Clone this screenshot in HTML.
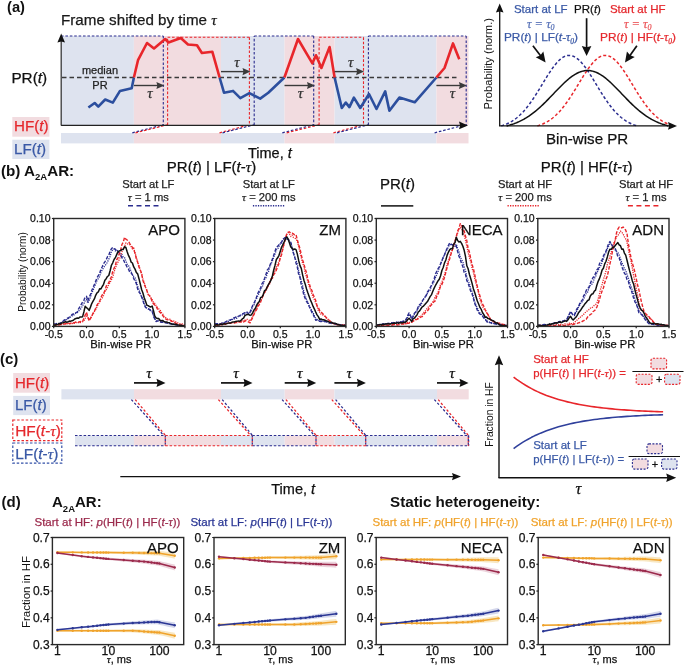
<!DOCTYPE html><html><head><meta charset="utf-8"><style>html,body{margin:0;padding:0;background:#fff;width:685px;height:665px;overflow:hidden}svg{display:block;will-change:transform}</style></head><body><svg width="685" height="665" viewBox="0 0 685 665"><text x="7" y="11.7" font-family='"Liberation Sans", sans-serif' font-size="14.7" fill="#111" stroke="#111" stroke-width="0" text-anchor="start" font-weight="bold" >(a)</text>
<text x="61" y="25.3" font-family='"Liberation Sans", sans-serif' font-size="15.2" fill="#1a1a1a" stroke="#1a1a1a" stroke-width="0.25" text-anchor="start" font-weight="normal" >Frame shifted by time <tspan font-family='"Liberation Serif", serif' font-style="italic">τ</tspan></text>
<rect x="61" y="36" width="72.9" height="89" fill="#dee3ef" stroke="none" stroke-width="1" />
<rect x="61" y="133" width="72.9" height="10.4" fill="#dee3ef" stroke="none" stroke-width="1" />
<rect x="133.9" y="36" width="87.1" height="89" fill="#f2dce0" stroke="none" stroke-width="1" />
<rect x="133.9" y="133" width="87.1" height="10.4" fill="#f2dce0" stroke="none" stroke-width="1" />
<rect x="221" y="36" width="63.5" height="89" fill="#dee3ef" stroke="none" stroke-width="1" />
<rect x="221" y="133" width="63.5" height="10.4" fill="#dee3ef" stroke="none" stroke-width="1" />
<rect x="284.5" y="36" width="50.10000000000002" height="89" fill="#f2dce0" stroke="none" stroke-width="1" />
<rect x="284.5" y="133" width="50.10000000000002" height="10.4" fill="#f2dce0" stroke="none" stroke-width="1" />
<rect x="334.6" y="36" width="101.79999999999995" height="89" fill="#dee3ef" stroke="none" stroke-width="1" />
<rect x="334.6" y="133" width="101.79999999999995" height="10.4" fill="#dee3ef" stroke="none" stroke-width="1" />
<rect x="436.4" y="36" width="32.10000000000002" height="89" fill="#f2dce0" stroke="none" stroke-width="1" />
<rect x="436.4" y="133" width="32.10000000000002" height="10.4" fill="#f2dce0" stroke="none" stroke-width="1" />
<line x1="61" y1="36" x2="163.3" y2="36" stroke="#2b2d8f" stroke-width="1.1" stroke-dasharray="2.6,1.8" />
<line x1="163.3" y1="36" x2="163.3" y2="125" stroke="#2b2d8f" stroke-width="1.1" stroke-dasharray="2.6,1.8" />
<line x1="254.2" y1="36" x2="313.7" y2="36" stroke="#2b2d8f" stroke-width="1.1" stroke-dasharray="2.6,1.8" />
<line x1="313.7" y1="36" x2="313.7" y2="125" stroke="#2b2d8f" stroke-width="1.1" stroke-dasharray="2.6,1.8" />
<line x1="254.2" y1="125" x2="254.2" y2="36" stroke="#2b2d8f" stroke-width="1.1" stroke-dasharray="2.6,1.8" />
<line x1="368.4" y1="36" x2="466.2" y2="36" stroke="#2b2d8f" stroke-width="1.1" stroke-dasharray="2.6,1.8" />
<line x1="466.2" y1="36" x2="466.2" y2="125" stroke="#2b2d8f" stroke-width="1.1" stroke-dasharray="2.6,1.8" />
<line x1="368.4" y1="125" x2="368.4" y2="36" stroke="#2b2d8f" stroke-width="1.1" stroke-dasharray="2.6,1.8" />
<line x1="167.6" y1="37.3" x2="249.4" y2="37.3" stroke="#e8262b" stroke-width="1.1" stroke-dasharray="2.6,1.8" />
<line x1="249.4" y1="37.3" x2="249.4" y2="125" stroke="#e8262b" stroke-width="1.1" stroke-dasharray="2.6,1.8" />
<line x1="167.6" y1="125" x2="167.6" y2="37.3" stroke="#e8262b" stroke-width="1.1" stroke-dasharray="2.6,1.8" />
<line x1="319.1" y1="37.3" x2="363.5" y2="37.3" stroke="#e8262b" stroke-width="1.1" stroke-dasharray="2.6,1.8" />
<line x1="363.5" y1="37.3" x2="363.5" y2="125" stroke="#e8262b" stroke-width="1.1" stroke-dasharray="2.6,1.8" />
<line x1="319.1" y1="125" x2="319.1" y2="37.3" stroke="#e8262b" stroke-width="1.1" stroke-dasharray="2.6,1.8" />
<line x1="132.3" y1="132.8" x2="163.3" y2="124.8" stroke="#2b2d8f" stroke-width="1.2" stroke-dasharray="2.6,1.8" />
<line x1="135.5" y1="132.8" x2="167.6" y2="124.8" stroke="#e8262b" stroke-width="1.2" stroke-dasharray="2.6,1.8" />
<line x1="219.5" y1="132.8" x2="249.4" y2="124.8" stroke="#e8262b" stroke-width="1.2" stroke-dasharray="2.6,1.8" />
<line x1="222.5" y1="132.8" x2="254.2" y2="124.8" stroke="#2b2d8f" stroke-width="1.2" stroke-dasharray="2.6,1.8" />
<line x1="282.3" y1="132.8" x2="313.7" y2="124.8" stroke="#2b2d8f" stroke-width="1.2" stroke-dasharray="2.6,1.8" />
<line x1="286.7" y1="132.8" x2="319.1" y2="124.8" stroke="#e8262b" stroke-width="1.2" stroke-dasharray="2.6,1.8" />
<line x1="333.4" y1="132.8" x2="363.5" y2="124.8" stroke="#e8262b" stroke-width="1.2" stroke-dasharray="2.6,1.8" />
<line x1="337" y1="132.8" x2="368.4" y2="124.8" stroke="#2b2d8f" stroke-width="1.2" stroke-dasharray="2.6,1.8" />
<line x1="434.6" y1="132.8" x2="465.5" y2="124.8" stroke="#2b2d8f" stroke-width="1.2" stroke-dasharray="2.6,1.8" />
<line x1="62" y1="77.5" x2="459" y2="77.5" stroke="#3a3a3a" stroke-width="1.6" stroke-dasharray="4.5,3" />
<text x="100" y="74" font-family='"Liberation Sans", sans-serif' font-size="11" fill="#222" stroke="#222" stroke-width="0.25" text-anchor="middle" font-weight="normal" >median</text>
<text x="100" y="89" font-family='"Liberation Sans", sans-serif' font-size="11" fill="#222" stroke="#222" stroke-width="0.25" text-anchor="middle" font-weight="normal" >PR</text>
<polyline points="88.40,107.50 94.70,103.00 98.30,106.60 105.20,99.50 112.80,102.60 120.00,90.90 131.70,88.20 133.90,77.50" fill="none" stroke="#2c4f9e" stroke-width="2.6" stroke-linejoin="round" />
<polyline points="219.60,77.50 224.00,92.70 233.00,90.90 240.30,98.10 249.40,93.20 260.20,98.60 268.30,92.70 284.40,77.50" fill="none" stroke="#2c4f9e" stroke-width="2.6" stroke-linejoin="round" />
<polyline points="334.60,77.50 341.80,108.00 345.80,102.60 349.40,107.10 353.90,97.60 360.30,108.00 369.00,94.00 376.50,109.00 385.20,91.40 389.40,110.70 399.40,97.60 414.70,102.30 436.40,77.50" fill="none" stroke="#2c4f9e" stroke-width="2.6" stroke-linejoin="round" />
<polyline points="133.90,77.50 138.00,60.20 147.00,43.00 154.00,48.50 165.20,39.00 168.50,42.50 180.80,38.00 188.00,44.50 197.00,45.20 201.90,53.00 212.30,51.70 219.60,77.50" fill="none" stroke="#e8262b" stroke-width="2.6" stroke-linejoin="round" />
<polyline points="284.40,77.50 298.00,39.00 312.40,63.30 316.00,55.30 321.40,68.00 329.60,47.00 334.60,77.50" fill="none" stroke="#e8262b" stroke-width="2.6" stroke-linejoin="round" />
<polyline points="436.40,77.50 444.50,68.00 453.00,43.40 459.30,59.30" fill="none" stroke="#e8262b" stroke-width="2.6" stroke-linejoin="round" />
<line x1="133.9" y1="85.5" x2="158.8" y2="85.5" stroke="#3a3a3a" stroke-width="1.4" />
<polygon points="164.4,85.5 156.40,89.10 157.36,85.50 156.40,81.90" fill="#3a3a3a"/>
<text x="149.9" y="97.5" font-family='"Liberation Serif", serif' font-size="15" fill="#333" stroke="#333" stroke-width="0.25" text-anchor="middle" font-weight="normal" ><tspan font-family='"Liberation Serif", serif' font-style="italic">τ</tspan></text>
<line x1="221.0" y1="71.6" x2="244.9" y2="71.6" stroke="#3a3a3a" stroke-width="1.4" />
<polygon points="250.5,71.6 242.50,75.20 243.46,71.60 242.50,68.00" fill="#3a3a3a"/>
<text x="237.0" y="66.5" font-family='"Liberation Serif", serif' font-size="15" fill="#333" stroke="#333" stroke-width="0.25" text-anchor="middle" font-weight="normal" ><tspan font-family='"Liberation Serif", serif' font-style="italic">τ</tspan></text>
<line x1="284.5" y1="85.5" x2="309.4" y2="85.5" stroke="#3a3a3a" stroke-width="1.4" />
<polygon points="315.0,85.5 307.00,89.10 307.96,85.50 307.00,81.90" fill="#3a3a3a"/>
<text x="300.5" y="97.5" font-family='"Liberation Serif", serif' font-size="15" fill="#333" stroke="#333" stroke-width="0.25" text-anchor="middle" font-weight="normal" ><tspan font-family='"Liberation Serif", serif' font-style="italic">τ</tspan></text>
<line x1="334.6" y1="71.6" x2="358.5" y2="71.6" stroke="#3a3a3a" stroke-width="1.4" />
<polygon points="364.1,71.6 356.10,75.20 357.06,71.60 356.10,68.00" fill="#3a3a3a"/>
<text x="350.6" y="66.5" font-family='"Liberation Serif", serif' font-size="15" fill="#333" stroke="#333" stroke-width="0.25" text-anchor="middle" font-weight="normal" ><tspan font-family='"Liberation Serif", serif' font-style="italic">τ</tspan></text>
<line x1="436.4" y1="85.5" x2="461.29999999999995" y2="85.5" stroke="#3a3a3a" stroke-width="1.4" />
<polygon points="466.9,85.5 458.90,89.10 459.86,85.50 458.90,81.90" fill="#3a3a3a"/>
<text x="452.4" y="97.5" font-family='"Liberation Serif", serif' font-size="15" fill="#333" stroke="#333" stroke-width="0.25" text-anchor="middle" font-weight="normal" ><tspan font-family='"Liberation Serif", serif' font-style="italic">τ</tspan></text>
<line x1="61" y1="125.4" x2="461" y2="125.4" stroke="#222" stroke-width="1.3" />
<polygon points="468,125.4 459.00,129.20 460.08,125.40 459.00,121.60" fill="#111"/>
<line x1="61.2" y1="125.4" x2="61.2" y2="40" stroke="#3a3a3a" stroke-width="1.3" />
<polygon points="61.2,33.5 65.00,42.50 61.20,41.42 57.40,42.50" fill="#111"/>
<text x="11.4" y="83.3" font-family='"Liberation Sans", sans-serif' font-size="15.3" fill="#111" stroke="#111" stroke-width="0.25" text-anchor="start" font-weight="normal" >PR(<tspan font-style="italic">t</tspan>)</text>
<rect x="12.3" y="117" width="37.1" height="19.7" fill="#f2dce0" stroke="none" stroke-width="1" />
<text x="14" y="131" font-family='"Liberation Sans", sans-serif' font-size="15.2" fill="#e5282d" stroke="#e5282d" stroke-width="0.25" text-anchor="start" font-weight="normal" >HF(<tspan font-style="italic">t</tspan>)</text>
<rect x="12.3" y="139.7" width="37.1" height="19.3" fill="#dee3ef" stroke="none" stroke-width="1" />
<text x="14" y="153.8" font-family='"Liberation Sans", sans-serif' font-size="15.2" fill="#3a59a6" stroke="#3a59a6" stroke-width="0.25" text-anchor="start" font-weight="normal" >LF(<tspan font-style="italic">t</tspan>)</text>
<text x="248" y="158" font-family='"Liberation Sans", sans-serif' font-size="14.5" fill="#111" stroke="#111" stroke-width="0.25" text-anchor="start" font-weight="normal" >Time, <tspan font-style="italic">t</tspan></text>
<polyline points="501.20,125.90 502.20,125.60 503.20,125.28 504.20,124.93 505.20,124.55 506.20,124.15 507.20,123.72 508.20,123.25 509.20,122.76 510.20,122.23 511.20,121.66 512.20,121.06 513.20,120.42 514.20,119.74 515.20,119.03 516.20,118.27 517.20,117.47 518.20,116.63 519.20,115.74 520.20,114.81 521.20,113.83 522.20,112.81 523.20,111.75 524.20,110.64 525.20,109.48 526.20,108.28 527.20,107.04 528.20,105.75 529.20,104.43 530.20,103.06 531.20,101.65 532.20,100.21 533.20,98.73 534.20,97.22 535.20,95.69 536.20,94.12 537.20,92.53 538.20,90.92 539.20,89.29 540.20,87.65 541.20,86.01 542.20,84.35 543.20,82.70 544.20,81.05 545.20,79.42 546.20,77.79 547.20,76.19 548.20,74.61 549.20,73.06 550.20,71.54 551.20,70.06 552.20,68.63 553.20,67.25 554.20,65.92 555.20,64.66 556.20,63.45 557.20,62.32 558.20,61.26 559.20,60.28 560.20,59.38 561.20,58.56 562.20,57.83 563.20,57.19 564.20,56.65 565.20,56.20 566.20,55.85 567.20,55.60 568.20,55.45 569.20,55.40 570.20,55.45 571.20,55.60 572.20,55.85 573.20,56.20 574.20,56.65 575.20,57.19 576.20,57.83 577.20,58.56 578.20,59.38 579.20,60.28 580.20,61.26 581.20,62.32 582.20,63.45 583.20,64.66 584.20,65.92 585.20,67.25 586.20,68.63 587.20,70.06 588.20,71.54 589.20,73.06 590.20,74.61 591.20,76.19 592.20,77.79 593.20,79.42 594.20,81.05 595.20,82.70 596.20,84.35 597.20,86.01 598.20,87.65 599.20,89.29 600.20,90.92 601.20,92.53 602.20,94.12 603.20,95.69 604.20,97.22 605.20,98.73 606.20,100.21 607.20,101.65 608.20,103.06 609.20,104.43 610.20,105.75 611.20,107.04 612.20,108.28 613.20,109.48 614.20,110.64 615.20,111.75 616.20,112.81 617.20,113.83 618.20,114.81 619.20,115.74 620.20,116.63 621.20,117.47 622.20,118.27 623.20,119.03 624.20,119.74 625.20,120.42 626.20,121.06 627.20,121.66 628.20,122.23 629.20,122.76 630.20,123.25 631.20,123.72 632.20,124.15 633.20,124.55 634.20,124.93 635.20,125.28 636.20,125.60 637.20,125.90" fill="none" stroke="#2b2d8f" stroke-width="1.5" stroke-dasharray="3,2.2" stroke-linejoin="round" />
<polyline points="537.30,125.90 538.30,125.60 539.30,125.28 540.30,124.93 541.30,124.55 542.30,124.15 543.30,123.72 544.30,123.25 545.30,122.76 546.30,122.23 547.30,121.66 548.30,121.06 549.30,120.42 550.30,119.74 551.30,119.03 552.30,118.27 553.30,117.47 554.30,116.63 555.30,115.74 556.30,114.81 557.30,113.83 558.30,112.81 559.30,111.75 560.30,110.64 561.30,109.48 562.30,108.28 563.30,107.04 564.30,105.75 565.30,104.43 566.30,103.06 567.30,101.65 568.30,100.21 569.30,98.73 570.30,97.22 571.30,95.69 572.30,94.12 573.30,92.53 574.30,90.92 575.30,89.29 576.30,87.65 577.30,86.01 578.30,84.35 579.30,82.70 580.30,81.05 581.30,79.42 582.30,77.79 583.30,76.19 584.30,74.61 585.30,73.06 586.30,71.54 587.30,70.06 588.30,68.63 589.30,67.25 590.30,65.92 591.30,64.66 592.30,63.45 593.30,62.32 594.30,61.26 595.30,60.28 596.30,59.38 597.30,58.56 598.30,57.83 599.30,57.19 600.30,56.65 601.30,56.20 602.30,55.85 603.30,55.60 604.30,55.45 605.30,55.40 606.30,55.45 607.30,55.60 608.30,55.85 609.30,56.20 610.30,56.65 611.30,57.19 612.30,57.83 613.30,58.56 614.30,59.38 615.30,60.28 616.30,61.26 617.30,62.32 618.30,63.45 619.30,64.66 620.30,65.92 621.30,67.25 622.30,68.63 623.30,70.06 624.30,71.54 625.30,73.06 626.30,74.61 627.30,76.19 628.30,77.79 629.30,79.42 630.30,81.05 631.30,82.70 632.30,84.35 633.30,86.01 634.30,87.65 635.30,89.29 636.30,90.92 637.30,92.53 638.30,94.12 639.30,95.69 640.30,97.22 641.30,98.73 642.30,100.21 643.30,101.65 644.30,103.06 645.30,104.43 646.30,105.75 647.30,107.04 648.30,108.28 649.30,109.48 650.30,110.64 651.30,111.75 652.30,112.81 653.30,113.83 654.30,114.81 655.30,115.74 656.30,116.63 657.30,117.47 658.30,118.27 659.30,119.03 660.30,119.74 661.30,120.42 662.30,121.06 663.30,121.66 664.30,122.23 665.30,122.76 666.30,123.25 667.30,123.72 668.30,124.15 669.30,124.55 670.30,124.93 671.30,125.28 672.30,125.60 673.30,125.90" fill="none" stroke="#e8262b" stroke-width="1.5" stroke-dasharray="3,2.2" stroke-linejoin="round" />
<polyline points="506.60,125.90 507.60,125.65 508.60,125.39 509.60,125.11 510.60,124.82 511.60,124.51 512.60,124.18 513.60,123.84 514.60,123.47 515.60,123.09 516.60,122.70 517.60,122.28 518.60,121.84 519.60,121.38 520.60,120.90 521.60,120.40 522.60,119.88 523.60,119.34 524.60,118.77 525.60,118.19 526.60,117.58 527.60,116.94 528.60,116.29 529.60,115.61 530.60,114.91 531.60,114.19 532.60,113.44 533.60,112.67 534.60,111.88 535.60,111.07 536.60,110.24 537.60,109.39 538.60,108.52 539.60,107.62 540.60,106.71 541.60,105.78 542.60,104.84 543.60,103.87 544.60,102.90 545.60,101.91 546.60,100.90 547.60,99.89 548.60,98.87 549.60,97.83 550.60,96.80 551.60,95.75 552.60,94.70 553.60,93.65 554.60,92.60 555.60,91.56 556.60,90.51 557.60,89.47 558.60,88.44 559.60,87.42 560.60,86.41 561.60,85.42 562.60,84.44 563.60,83.48 564.60,82.53 565.60,81.61 566.60,80.72 567.60,79.85 568.60,79.01 569.60,78.19 570.60,77.41 571.60,76.67 572.60,75.96 573.60,75.28 574.60,74.65 575.60,74.05 576.60,73.50 577.60,72.99 578.60,72.53 579.60,72.11 580.60,71.73 581.60,71.41 582.60,71.13 583.60,70.91 584.60,70.73 585.60,70.60 586.60,70.53 587.60,70.50 588.60,70.53 589.60,70.60 590.60,70.73 591.60,70.91 592.60,71.13 593.60,71.41 594.60,71.73 595.60,72.11 596.60,72.53 597.60,72.99 598.60,73.50 599.60,74.05 600.60,74.65 601.60,75.28 602.60,75.96 603.60,76.67 604.60,77.41 605.60,78.19 606.60,79.01 607.60,79.85 608.60,80.72 609.60,81.61 610.60,82.53 611.60,83.48 612.60,84.44 613.60,85.42 614.60,86.41 615.60,87.42 616.60,88.44 617.60,89.47 618.60,90.51 619.60,91.56 620.60,92.60 621.60,93.65 622.60,94.70 623.60,95.75 624.60,96.80 625.60,97.83 626.60,98.87 627.60,99.89 628.60,100.90 629.60,101.91 630.60,102.90 631.60,103.87 632.60,104.84 633.60,105.78 634.60,106.71 635.60,107.62 636.60,108.52 637.60,109.39 638.60,110.24 639.60,111.07 640.60,111.88 641.60,112.67 642.60,113.44 643.60,114.19 644.60,114.91 645.60,115.61 646.60,116.29 647.60,116.94 648.60,117.58 649.60,118.19 650.60,118.77 651.60,119.34 652.60,119.88 653.60,120.40 654.60,120.90 655.60,121.38 656.60,121.84 657.60,122.28 658.60,122.70 659.60,123.09 660.60,123.47 661.60,123.84 662.60,124.18 663.60,124.51 664.60,124.82 665.60,125.11 666.60,125.39 667.60,125.65 668.60,125.90" fill="none" stroke="#111" stroke-width="1.5" stroke-linejoin="round" />
<line x1="499.7" y1="126" x2="499.7" y2="10" stroke="#111" stroke-width="1.3" />
<polygon points="499.7,3.5 503.50,12.50 499.70,11.42 495.90,12.50" fill="#111"/>
<line x1="499" y1="125.9" x2="670" y2="125.9" stroke="#111" stroke-width="1.3" />
<polygon points="677,125.9 668.00,129.70 669.08,125.90 668.00,122.10" fill="#111"/>
<text x="546" y="143.8" font-family='"Liberation Sans", sans-serif' font-size="15.1" fill="#111" stroke="#111" stroke-width="0.25" text-anchor="start" font-weight="normal" >Bin-wise PR</text>
<text x="0" y="0" transform="translate(492.3,63.7) rotate(-90)" font-family='"Liberation Sans", sans-serif' font-size="11.2" fill="#111" text-anchor="middle">Probability (norm.)</text>
<text x="540.8" y="13.4" font-family='"Liberation Sans", sans-serif' font-size="11.5" fill="#3a59a6" stroke="#3a59a6" stroke-width="0.25" text-anchor="middle" font-weight="normal" >Start at LF</text>
<text x="587.5" y="13.4" font-family='"Liberation Sans", sans-serif' font-size="11.5" fill="#111" stroke="#111" stroke-width="0.25" text-anchor="middle" font-weight="normal" >PR(<tspan font-style="italic">t</tspan>)</text>
<text x="637.7" y="13.4" font-family='"Liberation Sans", sans-serif' font-size="11.5" fill="#e5282d" stroke="#e5282d" stroke-width="0.25" text-anchor="middle" font-weight="normal" >Start at HF</text>
<text x="540.8" y="27.6" font-family='"Liberation Serif", serif' font-size="12.5" fill="#5a74b8" stroke="#5a74b8" stroke-width="0.25" text-anchor="middle" font-weight="normal" ><tspan font-family='"Liberation Serif", serif' font-style="italic">τ = τ<tspan font-size="8" dy="2.8">0</tspan></tspan></text>
<text x="637.7" y="27.6" font-family='"Liberation Serif", serif' font-size="12.5" fill="#ec5a5e" stroke="#ec5a5e" stroke-width="0.25" text-anchor="middle" font-weight="normal" ><tspan font-family='"Liberation Serif", serif' font-style="italic">τ = τ<tspan font-size="8" dy="2.8">0</tspan></tspan></text>
<text x="541" y="41.0" font-family='"Liberation Sans", sans-serif' font-size="11.8" fill="#3a59a6" stroke="#3a59a6" stroke-width="0.25" text-anchor="middle" font-weight="normal" >PR(<tspan font-style="italic">t</tspan>) | LF(<tspan font-style="italic">t</tspan>-<tspan font-family='"Liberation Serif", serif' font-style="italic">τ<tspan font-size="7.5" dy="2.5">0</tspan></tspan><tspan dy="-2.5">)</tspan></text>
<text x="638" y="41.0" font-family='"Liberation Sans", sans-serif' font-size="11.8" fill="#e5282d" stroke="#e5282d" stroke-width="0.25" text-anchor="middle" font-weight="normal" >PR(<tspan font-style="italic">t</tspan>) | HF(<tspan font-style="italic">t</tspan>-<tspan font-family='"Liberation Serif", serif' font-style="italic">τ<tspan font-size="7.5" dy="2.5">0</tspan></tspan><tspan dy="-2.5">)</tspan></text>
<line x1="532.9" y1="45.8" x2="541.346606226799" y2="56.840445934241224" stroke="#111" stroke-width="1.7" />
<polygon points="545.6,62.4 535.71,57.37 540.25,55.41 543.34,51.54" fill="#111"/>
<line x1="586.6" y1="18.2" x2="586.6" y2="49.0" stroke="#111" stroke-width="1.7" />
<polygon points="586.6,56 581.80,46.00 586.60,47.20 591.40,46.00" fill="#111"/>
<line x1="636.9" y1="45.8" x2="629.0783873090236" y2="56.710821064723376" stroke="#111" stroke-width="1.7" />
<polygon points="625,62.4 626.93,51.48 630.13,55.25 634.73,57.07" fill="#111"/>
<text x="1" y="175.5" font-family='"Liberation Sans", sans-serif' font-size="15.2" fill="#111" stroke="#111" stroke-width="0" text-anchor="start" font-weight="bold" >(b) A<tspan font-size="9.5" dy="4.2">2A</tspan><tspan dy="-4.2">AR:</tspan></text>
<text x="211.5" y="171.6" font-family='"Liberation Sans", sans-serif' font-size="15" fill="#111" stroke="#111" stroke-width="0.25" text-anchor="middle" font-weight="normal" >PR(<tspan font-style="italic">t</tspan>) | LF(<tspan font-style="italic">t</tspan>-<tspan font-family='"Liberation Serif", serif' font-style="italic">τ</tspan>)</text>
<text x="397.4" y="189.2" font-family='"Liberation Sans", sans-serif' font-size="15" fill="#111" stroke="#111" stroke-width="0.25" text-anchor="middle" font-weight="normal" >PR(<tspan font-style="italic">t</tspan>)</text>
<text x="586.7" y="171.8" font-family='"Liberation Sans", sans-serif' font-size="15" fill="#111" stroke="#111" stroke-width="0.25" text-anchor="middle" font-weight="normal" >PR(<tspan font-style="italic">t</tspan>) | HF(<tspan font-style="italic">t</tspan>-<tspan font-family='"Liberation Serif", serif' font-style="italic">τ</tspan>)</text>
<text x="148.3" y="188" font-family='"Liberation Sans", sans-serif' font-size="11.2" fill="#222" stroke="#222" stroke-width="0.25" text-anchor="middle" font-weight="normal" >Start at LF</text>
<text x="148.3" y="201.2" font-family='"Liberation Sans", sans-serif' font-size="11.2" fill="#222" stroke="#222" stroke-width="0.25" text-anchor="middle" font-weight="normal" ><tspan font-family='"Liberation Serif", serif' font-style="italic">τ</tspan> <tspan fill="#777">=</tspan> 1 ms</text>
<line x1="128" y1="205.8" x2="160.5" y2="205.8" stroke="#2b2d8f" stroke-width="1.5" stroke-dasharray="5,3.5" />
<text x="268.8" y="188" font-family='"Liberation Sans", sans-serif' font-size="11.2" fill="#222" stroke="#222" stroke-width="0.25" text-anchor="middle" font-weight="normal" >Start at LF</text>
<text x="268.8" y="201.2" font-family='"Liberation Sans", sans-serif' font-size="11.2" fill="#222" stroke="#222" stroke-width="0.25" text-anchor="middle" font-weight="normal" ><tspan font-family='"Liberation Serif", serif' font-style="italic">τ</tspan> <tspan fill="#777">=</tspan> 200 ms</text>
<line x1="252.9" y1="205.8" x2="284.9" y2="205.8" stroke="#2b2d8f" stroke-width="1.5" stroke-dasharray="1.3,1.2" />
<line x1="381" y1="205.8" x2="413.3" y2="205.8" stroke="#333" stroke-width="1.8" />
<text x="525" y="188" font-family='"Liberation Sans", sans-serif' font-size="11.2" fill="#222" stroke="#222" stroke-width="0.25" text-anchor="middle" font-weight="normal" >Start at HF</text>
<text x="525" y="201.2" font-family='"Liberation Sans", sans-serif' font-size="11.2" fill="#222" stroke="#222" stroke-width="0.25" text-anchor="middle" font-weight="normal" ><tspan font-family='"Liberation Serif", serif' font-style="italic">τ</tspan> <tspan fill="#777">=</tspan> 200 ms</text>
<line x1="507.5" y1="205.8" x2="539.6" y2="205.8" stroke="#e8262b" stroke-width="1.5" stroke-dasharray="1.3,1.2" />
<text x="646" y="188" font-family='"Liberation Sans", sans-serif' font-size="11.2" fill="#222" stroke="#222" stroke-width="0.25" text-anchor="middle" font-weight="normal" >Start at HF</text>
<text x="646" y="201.2" font-family='"Liberation Sans", sans-serif' font-size="11.2" fill="#222" stroke="#222" stroke-width="0.25" text-anchor="middle" font-weight="normal" ><tspan font-family='"Liberation Serif", serif' font-style="italic">τ</tspan> <tspan fill="#777">=</tspan> 1 ms</text>
<line x1="627.9" y1="205.8" x2="660.9" y2="205.8" stroke="#e8262b" stroke-width="1.5" stroke-dasharray="5,3.5" />
<clipPath id="cb0"><rect x="53.7" y="218.5" width="131.2" height="107.89999999999998"/></clipPath>
<g clip-path="url(#cb0)">
<polyline points="53.70,324.50 55.01,324.16 56.32,323.58 57.64,323.75 58.95,323.46 60.26,323.03 61.57,322.65 62.88,321.55 64.20,320.64 65.51,319.67 66.82,319.70 68.13,318.68 69.44,318.18 70.76,316.47 72.07,315.81 73.38,315.90 74.69,313.75 76.00,312.95 77.32,312.59 78.63,310.94 79.94,309.85 81.25,308.29 82.56,305.48 83.88,303.76 85.19,300.63 86.50,299.60 87.81,303.12 89.12,300.52 90.44,297.27 91.75,292.92 93.06,290.44 94.37,286.81 95.68,283.94 97.00,280.45 98.31,278.54 99.62,276.56 100.93,272.26 102.24,269.82 103.56,267.78 104.87,265.68 106.18,264.25 107.49,261.98 108.80,259.09 110.12,256.51 111.43,251.49 112.74,249.89 114.05,249.11 115.36,250.93 116.68,250.07 117.99,250.99 119.30,253.93 120.61,254.38 121.92,254.31 123.24,257.18 124.55,257.60 125.86,260.85 127.17,264.37 128.48,265.62 129.80,267.92 131.11,271.67 132.42,274.53 133.73,276.36 135.04,277.79 136.36,281.40 137.67,286.34 138.98,289.49 140.29,293.35 141.60,296.90 142.92,298.60 144.23,303.45 145.54,306.14 146.85,308.14 148.16,309.17 149.48,308.79 150.79,310.40 152.10,310.59 153.41,315.17 154.72,318.51 156.04,320.79 157.35,321.02 158.66,320.57 159.97,321.06 161.28,321.89 162.60,321.60 163.91,322.59 165.22,322.69 166.53,322.49 167.84,322.94 169.16,323.70 170.47,323.10 171.78,324.07 173.09,324.27 174.40,324.04 175.72,324.68 177.03,324.95 178.34,325.38 179.65,325.60 180.96,325.36 182.28,325.78 183.59,325.63 184.90,325.96" fill="none" stroke="#2b2d8f" stroke-width="1.3" stroke-dasharray="1.2,1.1" stroke-linejoin="round" />
<polyline points="53.70,325.34 55.01,325.04 56.32,324.89 57.64,325.19 58.95,325.16 60.26,324.70 61.57,324.65 62.88,324.02 64.20,323.98 65.51,323.92 66.82,323.81 68.13,323.57 69.44,323.90 70.76,323.48 72.07,323.60 73.38,322.74 74.69,323.42 76.00,322.53 77.32,323.12 78.63,322.37 79.94,322.57 81.25,322.36 82.56,321.76 83.88,320.77 85.19,318.47 86.50,315.04 87.81,317.32 89.12,319.55 90.44,318.12 91.75,315.68 93.06,314.43 94.37,311.55 95.68,309.64 97.00,306.93 98.31,303.90 99.62,302.44 100.93,298.84 102.24,297.95 103.56,295.28 104.87,291.19 106.18,289.84 107.49,287.36 108.80,284.48 110.12,282.36 111.43,279.69 112.74,277.23 114.05,272.05 115.36,268.05 116.68,264.65 117.99,262.08 119.30,259.50 120.61,256.10 121.92,251.88 123.24,248.54 124.55,246.62 125.86,242.92 127.17,243.67 128.48,244.37 129.80,244.67 131.11,246.55 132.42,248.85 133.73,247.88 135.04,253.10 136.36,257.08 137.67,262.06 138.98,265.73 140.29,270.04 141.60,273.26 142.92,279.20 144.23,282.25 145.54,287.42 146.85,290.29 148.16,294.15 149.48,295.67 150.79,297.64 152.10,299.11 153.41,302.39 154.72,303.31 156.04,305.62 157.35,307.27 158.66,308.72 159.97,309.73 161.28,312.35 162.60,313.47 163.91,316.40 165.22,317.23 166.53,318.44 167.84,319.15 169.16,318.99 170.47,319.31 171.78,320.84 173.09,321.04 174.40,321.01 175.72,321.96 177.03,322.56 178.34,323.28 179.65,323.74 180.96,323.70 182.28,323.88 183.59,324.39 184.90,325.32" fill="none" stroke="#e8262b" stroke-width="1.3" stroke-dasharray="1.2,1.1" stroke-linejoin="round" />
<polyline points="53.70,324.46 55.01,323.85 56.32,323.62 57.64,323.24 58.95,323.64 60.26,323.25 61.57,322.46 62.88,321.50 64.20,320.06 65.51,319.86 66.82,318.50 68.13,318.01 69.44,317.03 70.76,315.97 72.07,314.51 73.38,313.94 74.69,313.94 76.00,312.67 77.32,312.00 78.63,308.78 79.94,306.64 81.25,304.40 82.56,302.11 83.88,300.05 85.19,297.33 86.50,296.31 87.81,300.97 89.12,297.19 90.44,294.62 91.75,290.50 93.06,287.56 94.37,284.48 95.68,281.22 97.00,277.76 98.31,275.53 99.62,273.52 100.93,269.18 102.24,266.71 103.56,263.71 104.87,261.95 106.18,259.78 107.49,256.70 108.80,255.39 110.12,251.09 111.43,248.80 112.74,247.43 114.05,248.65 115.36,249.10 116.68,251.09 117.99,251.84 119.30,252.74 120.61,254.73 121.92,257.79 123.24,259.23 124.55,262.27 125.86,264.64 127.17,267.12 128.48,269.05 129.80,272.18 131.11,273.05 132.42,274.64 133.73,278.56 135.04,280.93 136.36,283.60 137.67,289.13 138.98,292.10 140.29,293.62 141.60,296.82 142.92,300.55 144.23,304.77 145.54,307.46 146.85,307.87 148.16,308.57 149.48,309.45 150.79,311.17 152.10,311.28 153.41,315.68 154.72,318.92 156.04,321.51 157.35,320.85 158.66,321.47 159.97,321.58 161.28,322.34 162.60,322.15 163.91,322.42 165.22,322.64 166.53,323.10 167.84,322.97 169.16,323.57 170.47,323.84 171.78,324.19 173.09,323.95 174.40,324.69 175.72,324.81 177.03,325.18 178.34,324.91 179.65,325.22 180.96,325.39 182.28,325.95 183.59,325.77 184.90,325.99" fill="none" stroke="#2b2d8f" stroke-width="1.4" stroke-dasharray="3.5,1.6" stroke-linejoin="round" />
<polyline points="53.70,325.65 55.01,324.97 56.32,324.83 57.64,324.40 58.95,324.80 60.26,324.64 61.57,324.03 62.88,323.92 64.20,324.06 65.51,323.53 66.82,323.62 68.13,323.08 69.44,323.53 70.76,323.25 72.07,322.41 73.38,322.76 74.69,322.68 76.00,321.96 77.32,321.95 78.63,322.26 79.94,321.67 81.25,321.37 82.56,321.72 83.88,318.11 85.19,315.06 86.50,312.21 87.81,316.87 89.12,321.00 90.44,318.51 91.75,316.55 93.06,313.04 94.37,311.22 95.68,308.27 97.00,305.09 98.31,302.77 99.62,301.37 100.93,297.64 102.24,294.86 103.56,293.37 104.87,290.94 106.18,286.27 107.49,284.55 108.80,282.73 110.12,279.40 111.43,276.75 112.74,271.39 114.05,268.30 115.36,265.46 116.68,259.75 117.99,257.77 119.30,253.42 120.61,250.21 121.92,244.50 123.24,242.26 124.55,237.33 125.86,239.15 127.17,239.98 128.48,241.29 129.80,243.51 131.11,245.56 132.42,247.31 133.73,249.52 135.04,253.38 136.36,258.94 137.67,262.23 138.98,267.12 140.29,269.76 141.60,273.84 142.92,280.36 144.23,284.44 145.54,287.25 146.85,290.57 148.16,294.64 149.48,295.54 150.79,297.66 152.10,301.51 153.41,303.81 154.72,305.04 156.04,306.02 157.35,308.94 158.66,310.52 159.97,312.36 161.28,313.35 162.60,315.26 163.91,317.20 165.22,318.53 166.53,319.52 167.84,319.75 169.16,319.55 170.47,320.57 171.78,321.46 173.09,321.35 174.40,322.51 175.72,323.18 177.03,323.94 178.34,324.39 179.65,324.90 180.96,325.12 182.28,324.71 183.59,325.38 184.90,325.53" fill="none" stroke="#e8262b" stroke-width="1.4" stroke-dasharray="3.5,1.6" stroke-linejoin="round" />
<polyline points="53.70,324.93 55.01,325.40 56.32,324.44 57.64,324.62 58.95,323.53 60.26,324.09 61.57,322.94 62.88,322.78 64.20,322.27 65.51,321.78 66.82,322.22 68.13,321.78 69.44,321.05 70.76,321.14 72.07,320.68 73.38,320.23 74.69,319.01 76.00,318.48 77.32,318.07 78.63,318.29 79.94,316.91 81.25,316.94 82.56,316.82 83.88,311.88 85.19,306.26 86.50,307.70 87.81,308.76 89.12,310.35 90.44,307.13 91.75,303.54 93.06,301.23 94.37,298.92 95.68,295.31 97.00,292.79 98.31,291.97 99.62,288.67 100.93,288.94 102.24,286.50 103.56,284.29 104.87,280.18 106.18,278.69 107.49,276.49 108.80,275.48 110.12,270.79 111.43,265.26 112.74,262.79 114.05,259.50 115.36,257.68 116.68,254.59 117.99,251.63 119.30,250.97 120.61,250.57 121.92,249.50 123.24,249.53 124.55,246.74 125.86,247.47 127.17,251.72 128.48,255.46 129.80,258.07 131.11,262.06 132.42,263.01 133.73,266.94 135.04,269.13 136.36,272.54 137.67,273.87 138.98,278.68 140.29,284.03 141.60,289.48 142.92,293.03 144.23,297.82 145.54,301.32 146.85,305.30 148.16,305.65 149.48,306.52 150.79,306.99 152.10,306.02 153.41,310.35 154.72,315.87 156.04,317.85 157.35,318.48 158.66,318.49 159.97,320.19 161.28,320.75 162.60,320.49 163.91,321.39 165.22,322.06 166.53,322.03 167.84,322.51 169.16,322.71 170.47,323.43 171.78,323.88 173.09,324.23 174.40,324.23 175.72,324.24 177.03,324.77 178.34,325.09 179.65,325.15 180.96,325.26 182.28,325.49 183.59,325.87 184.90,325.60" fill="none" stroke="#111" stroke-width="1.5" stroke-linejoin="round" />
</g>
<rect x="53.7" y="218.5" width="131.2" height="107.89999999999998" fill="none" stroke="#2a2a2a" stroke-width="1.4" />
<line x1="51.900000000000006" y1="326.4" x2="53.7" y2="326.4" stroke="#222" stroke-width="1.2" />
<text x="50.5" y="330.09999999999997" font-family='"Liberation Sans", sans-serif' font-size="10.5" fill="#111" stroke="#111" stroke-width="0.25" text-anchor="end" font-weight="normal" >0.00</text>
<line x1="51.900000000000006" y1="304.82" x2="53.7" y2="304.82" stroke="#222" stroke-width="1.2" />
<text x="50.5" y="308.52" font-family='"Liberation Sans", sans-serif' font-size="10.5" fill="#111" stroke="#111" stroke-width="0.25" text-anchor="end" font-weight="normal" >0.02</text>
<line x1="51.900000000000006" y1="283.24" x2="53.7" y2="283.24" stroke="#222" stroke-width="1.2" />
<text x="50.5" y="286.94" font-family='"Liberation Sans", sans-serif' font-size="10.5" fill="#111" stroke="#111" stroke-width="0.25" text-anchor="end" font-weight="normal" >0.04</text>
<line x1="51.900000000000006" y1="261.65999999999997" x2="53.7" y2="261.65999999999997" stroke="#222" stroke-width="1.2" />
<text x="50.5" y="265.35999999999996" font-family='"Liberation Sans", sans-serif' font-size="10.5" fill="#111" stroke="#111" stroke-width="0.25" text-anchor="end" font-weight="normal" >0.06</text>
<line x1="51.900000000000006" y1="240.07999999999998" x2="53.7" y2="240.07999999999998" stroke="#222" stroke-width="1.2" />
<text x="50.5" y="243.77999999999997" font-family='"Liberation Sans", sans-serif' font-size="10.5" fill="#111" stroke="#111" stroke-width="0.25" text-anchor="end" font-weight="normal" >0.08</text>
<line x1="51.900000000000006" y1="218.5" x2="53.7" y2="218.5" stroke="#222" stroke-width="1.2" />
<text x="50.5" y="222.2" font-family='"Liberation Sans", sans-serif' font-size="10.5" fill="#111" stroke="#111" stroke-width="0.25" text-anchor="end" font-weight="normal" >0.10</text>
<line x1="53.7" y1="326.4" x2="53.7" y2="328.2" stroke="#222" stroke-width="1.2" />
<text x="53.7" y="337.6" font-family='"Liberation Sans", sans-serif' font-size="10.5" fill="#111" stroke="#111" stroke-width="0.25" text-anchor="middle" font-weight="normal" >-0.5</text>
<line x1="86.5" y1="326.4" x2="86.5" y2="328.2" stroke="#222" stroke-width="1.2" />
<text x="86.5" y="337.6" font-family='"Liberation Sans", sans-serif' font-size="10.5" fill="#111" stroke="#111" stroke-width="0.25" text-anchor="middle" font-weight="normal" >0.0</text>
<line x1="119.3" y1="326.4" x2="119.3" y2="328.2" stroke="#222" stroke-width="1.2" />
<text x="119.3" y="337.6" font-family='"Liberation Sans", sans-serif' font-size="10.5" fill="#111" stroke="#111" stroke-width="0.25" text-anchor="middle" font-weight="normal" >0.5</text>
<line x1="152.1" y1="326.4" x2="152.1" y2="328.2" stroke="#222" stroke-width="1.2" />
<text x="152.1" y="337.6" font-family='"Liberation Sans", sans-serif' font-size="10.5" fill="#111" stroke="#111" stroke-width="0.25" text-anchor="middle" font-weight="normal" >1.0</text>
<line x1="184.89999999999998" y1="326.4" x2="184.89999999999998" y2="328.2" stroke="#222" stroke-width="1.2" />
<text x="184.89999999999998" y="337.6" font-family='"Liberation Sans", sans-serif' font-size="10.5" fill="#111" stroke="#111" stroke-width="0.25" text-anchor="middle" font-weight="normal" >1.5</text>
<text x="120.8" y="348.2" font-family='"Liberation Sans", sans-serif' font-size="11.2" fill="#111" stroke="#111" stroke-width="0.25" text-anchor="middle" font-weight="normal" >Bin-wise PR</text>
<text x="179.89999999999998" y="235" font-family='"Liberation Sans", sans-serif' font-size="15" fill="#111" stroke="#111" stroke-width="0.25" text-anchor="end" font-weight="normal" >APO</text>
<clipPath id="cb1"><rect x="214.7" y="218.5" width="131.2" height="107.89999999999998"/></clipPath>
<g clip-path="url(#cb1)">
<polyline points="214.70,324.75 216.01,324.16 217.32,324.08 218.64,324.10 219.95,324.21 221.26,323.48 222.57,322.93 223.88,322.69 225.20,322.18 226.51,321.94 227.82,321.67 229.13,320.76 230.44,320.00 231.76,320.07 233.07,318.70 234.38,318.85 235.69,318.34 237.00,318.07 238.32,316.31 239.63,316.12 240.94,315.30 242.25,314.91 243.56,315.02 244.88,313.86 246.19,312.87 247.50,313.14 248.81,313.90 250.12,312.49 251.44,310.31 252.75,306.27 254.06,304.76 255.37,300.21 256.68,298.39 258.00,295.29 259.31,292.97 260.62,289.75 261.93,287.42 263.24,284.71 264.56,279.47 265.87,278.01 267.18,273.50 268.49,271.88 269.80,266.82 271.12,263.92 272.43,260.82 273.74,257.02 275.05,253.72 276.36,250.01 277.68,249.07 278.99,246.34 280.30,243.61 281.61,243.42 282.92,239.73 284.24,238.00 285.55,237.42 286.86,238.29 288.17,239.97 289.48,242.03 290.80,242.35 292.11,247.93 293.42,253.23 294.73,257.42 296.04,260.17 297.36,264.43 298.67,270.85 299.98,275.99 301.29,280.96 302.60,285.58 303.92,292.07 305.23,296.00 306.54,299.22 307.85,301.91 309.16,305.56 310.48,308.29 311.79,310.70 313.10,312.56 314.41,316.11 315.72,318.40 317.04,319.47 318.35,320.42 319.66,320.96 320.97,320.41 322.28,320.74 323.60,321.45 324.91,321.40 326.22,321.69 327.53,321.74 328.84,321.97 330.16,322.80 331.47,322.51 332.78,322.82 334.09,323.46 335.40,323.47 336.72,324.11 338.03,324.49 339.34,324.88 340.65,324.61 341.96,325.46 343.28,325.76 344.59,325.38 345.90,325.64" fill="none" stroke="#2b2d8f" stroke-width="1.3" stroke-dasharray="1.2,1.1" stroke-linejoin="round" />
<polyline points="214.70,324.94 216.01,325.45 217.32,325.38 218.64,324.36 219.95,324.90 221.26,324.78 222.57,324.12 223.88,324.21 225.20,323.52 226.51,323.94 227.82,323.08 229.13,323.49 230.44,323.04 231.76,322.53 233.07,322.58 234.38,322.15 235.69,322.17 237.00,322.65 238.32,321.62 239.63,321.73 240.94,321.72 242.25,321.46 243.56,320.34 244.88,320.23 246.19,319.42 247.50,319.37 248.81,319.91 250.12,321.08 251.44,318.61 252.75,316.10 254.06,314.01 255.37,310.31 256.68,308.79 258.00,305.31 259.31,302.31 260.62,300.32 261.93,298.90 263.24,294.64 264.56,292.42 265.87,291.07 267.18,288.82 268.49,284.97 269.80,283.67 271.12,278.76 272.43,276.88 273.74,273.54 275.05,270.51 276.36,266.99 277.68,263.56 278.99,262.38 280.30,257.56 281.61,252.37 282.92,248.47 284.24,243.05 285.55,238.54 286.86,234.30 288.17,232.60 289.48,234.18 290.80,236.52 292.11,235.01 293.42,237.45 294.73,238.03 296.04,238.88 297.36,241.58 298.67,246.40 299.98,252.43 301.29,257.60 302.60,263.27 303.92,266.08 305.23,272.84 306.54,276.75 307.85,281.90 309.16,286.03 310.48,289.54 311.79,293.55 313.10,297.48 314.41,299.77 315.72,302.68 317.04,306.46 318.35,310.68 319.66,312.15 320.97,314.23 322.28,314.79 323.60,315.32 324.91,316.33 326.22,318.04 327.53,318.69 328.84,320.21 330.16,321.29 331.47,322.33 332.78,323.07 334.09,323.55 335.40,324.06 336.72,324.08 338.03,324.41 339.34,324.92 340.65,324.80 341.96,324.99 343.28,325.37 344.59,325.30 345.90,326.08" fill="none" stroke="#e8262b" stroke-width="1.3" stroke-dasharray="1.2,1.1" stroke-linejoin="round" />
<polyline points="214.70,323.86 216.01,323.72 217.32,323.66 218.64,324.29 219.95,323.71 221.26,323.66 222.57,322.96 223.88,322.77 225.20,322.13 226.51,321.28 227.82,320.93 229.13,320.08 230.44,319.99 231.76,319.35 233.07,318.00 234.38,317.76 235.69,317.06 237.00,316.17 238.32,316.08 239.63,315.92 240.94,314.30 242.25,313.98 243.56,313.28 244.88,312.74 246.19,311.60 247.50,312.40 248.81,314.16 250.12,311.75 251.44,308.41 252.75,305.23 254.06,302.93 255.37,300.49 256.68,296.61 258.00,292.99 259.31,290.32 260.62,287.69 261.93,283.89 263.24,281.79 264.56,278.51 265.87,274.84 267.18,270.27 268.49,268.58 269.80,265.50 271.12,262.25 272.43,259.11 273.74,255.23 275.05,251.22 276.36,247.34 277.68,246.25 278.99,244.65 280.30,243.37 281.61,241.83 282.92,239.11 284.24,238.21 285.55,237.47 286.86,239.42 288.17,239.23 289.48,240.99 290.80,242.23 292.11,248.40 293.42,252.78 294.73,256.99 296.04,263.02 297.36,267.28 298.67,274.48 299.98,277.56 301.29,285.12 302.60,289.37 303.92,295.56 305.23,298.54 306.54,301.46 307.85,303.53 309.16,306.52 310.48,308.93 311.79,312.25 313.10,314.23 314.41,317.21 315.72,320.32 317.04,319.86 318.35,320.77 319.66,321.22 320.97,321.59 322.28,321.42 323.60,321.95 324.91,321.44 326.22,321.67 327.53,322.66 328.84,323.02 330.16,322.85 331.47,323.44 332.78,323.33 334.09,323.33 335.40,324.10 336.72,324.19 338.03,324.01 339.34,324.67 340.65,325.00 341.96,324.78 343.28,325.10 344.59,325.29 345.90,325.71" fill="none" stroke="#2b2d8f" stroke-width="1.4" stroke-dasharray="3.5,1.6" stroke-linejoin="round" />
<polyline points="214.70,325.14 216.01,324.86 217.32,325.25 218.64,324.37 219.95,324.89 221.26,324.30 222.57,324.64 223.88,323.87 225.20,324.25 226.51,323.57 227.82,323.37 229.13,323.16 230.44,323.29 231.76,322.71 233.07,322.41 234.38,323.09 235.69,322.53 237.00,321.91 238.32,321.95 239.63,322.08 240.94,322.05 242.25,321.20 243.56,321.94 244.88,321.05 246.19,320.79 247.50,321.49 248.81,322.05 250.12,322.82 251.44,319.90 252.75,317.45 254.06,314.04 255.37,311.26 256.68,309.58 258.00,305.84 259.31,304.79 260.62,302.12 261.93,298.18 263.24,295.15 264.56,292.39 265.87,289.27 267.18,286.94 268.49,285.81 269.80,281.90 271.12,278.76 272.43,278.24 273.74,274.52 275.05,272.73 276.36,270.09 277.68,266.54 278.99,263.38 280.30,257.56 281.61,254.71 282.92,248.71 284.24,242.41 285.55,237.98 286.86,233.56 288.17,232.14 289.48,231.82 290.80,233.47 292.11,233.18 293.42,233.86 294.73,235.21 296.04,234.86 297.36,239.91 298.67,244.62 299.98,248.55 301.29,254.93 302.60,259.97 303.92,263.83 305.23,269.07 306.54,272.80 307.85,279.30 309.16,283.24 310.48,287.69 311.79,290.31 313.10,294.31 314.41,297.59 315.72,300.53 317.04,305.67 318.35,307.52 319.66,310.51 320.97,311.65 322.28,313.37 323.60,314.60 324.91,316.12 326.22,317.41 327.53,318.90 328.84,320.07 330.16,321.35 331.47,322.58 332.78,323.32 334.09,323.64 335.40,324.01 336.72,324.78 338.03,324.77 339.34,324.74 340.65,324.83 341.96,325.28 343.28,325.32 344.59,325.31 345.90,326.05" fill="none" stroke="#e8262b" stroke-width="1.4" stroke-dasharray="3.5,1.6" stroke-linejoin="round" />
<polyline points="214.70,325.42 216.01,324.78 217.32,324.67 218.64,325.03 219.95,324.28 221.26,324.29 222.57,324.58 223.88,323.51 225.20,323.91 226.51,323.62 227.82,323.27 229.13,322.87 230.44,323.08 231.76,322.29 233.07,321.89 234.38,321.97 235.69,321.44 237.00,321.37 238.32,320.91 239.63,321.36 240.94,320.40 242.25,318.97 243.56,318.12 244.88,315.67 246.19,314.81 247.50,314.57 248.81,314.51 250.12,315.40 251.44,314.91 252.75,312.68 254.06,309.91 255.37,308.33 256.68,305.11 258.00,302.89 259.31,301.45 260.62,297.43 261.93,297.14 263.24,294.55 264.56,290.57 265.87,289.81 267.18,286.98 268.49,284.32 269.80,282.33 271.12,279.88 272.43,275.76 273.74,269.94 275.05,265.17 276.36,259.54 277.68,257.81 278.99,255.30 280.30,251.26 281.61,247.09 282.92,244.46 284.24,241.79 285.55,238.62 286.86,236.82 288.17,239.04 289.48,242.98 290.80,246.98 292.11,248.25 293.42,249.46 294.73,249.05 296.04,249.66 297.36,254.15 298.67,260.46 299.98,265.57 301.29,268.41 302.60,274.83 303.92,280.28 305.23,284.16 306.54,288.96 307.85,292.84 309.16,296.42 310.48,300.11 311.79,303.03 313.10,306.46 314.41,309.07 315.72,312.10 317.04,314.87 318.35,316.68 319.66,319.30 320.97,318.93 322.28,319.73 323.60,319.68 324.91,320.20 326.22,320.76 327.53,321.11 328.84,321.91 330.16,322.52 331.47,322.18 332.78,323.06 334.09,323.60 335.40,323.33 336.72,323.94 338.03,324.84 339.34,324.80 340.65,325.50 341.96,325.13 343.28,325.76 344.59,325.36 345.90,325.77" fill="none" stroke="#111" stroke-width="1.5" stroke-linejoin="round" />
</g>
<rect x="214.7" y="218.5" width="131.2" height="107.89999999999998" fill="none" stroke="#2a2a2a" stroke-width="1.4" />
<line x1="212.89999999999998" y1="326.4" x2="214.7" y2="326.4" stroke="#222" stroke-width="1.2" />
<text x="211.5" y="330.09999999999997" font-family='"Liberation Sans", sans-serif' font-size="10.5" fill="#111" stroke="#111" stroke-width="0.25" text-anchor="end" font-weight="normal" >0.00</text>
<line x1="212.89999999999998" y1="304.82" x2="214.7" y2="304.82" stroke="#222" stroke-width="1.2" />
<text x="211.5" y="308.52" font-family='"Liberation Sans", sans-serif' font-size="10.5" fill="#111" stroke="#111" stroke-width="0.25" text-anchor="end" font-weight="normal" >0.02</text>
<line x1="212.89999999999998" y1="283.24" x2="214.7" y2="283.24" stroke="#222" stroke-width="1.2" />
<text x="211.5" y="286.94" font-family='"Liberation Sans", sans-serif' font-size="10.5" fill="#111" stroke="#111" stroke-width="0.25" text-anchor="end" font-weight="normal" >0.04</text>
<line x1="212.89999999999998" y1="261.65999999999997" x2="214.7" y2="261.65999999999997" stroke="#222" stroke-width="1.2" />
<text x="211.5" y="265.35999999999996" font-family='"Liberation Sans", sans-serif' font-size="10.5" fill="#111" stroke="#111" stroke-width="0.25" text-anchor="end" font-weight="normal" >0.06</text>
<line x1="212.89999999999998" y1="240.07999999999998" x2="214.7" y2="240.07999999999998" stroke="#222" stroke-width="1.2" />
<text x="211.5" y="243.77999999999997" font-family='"Liberation Sans", sans-serif' font-size="10.5" fill="#111" stroke="#111" stroke-width="0.25" text-anchor="end" font-weight="normal" >0.08</text>
<line x1="212.89999999999998" y1="218.5" x2="214.7" y2="218.5" stroke="#222" stroke-width="1.2" />
<text x="211.5" y="222.2" font-family='"Liberation Sans", sans-serif' font-size="10.5" fill="#111" stroke="#111" stroke-width="0.25" text-anchor="end" font-weight="normal" >0.10</text>
<line x1="214.7" y1="326.4" x2="214.7" y2="328.2" stroke="#222" stroke-width="1.2" />
<text x="214.7" y="337.6" font-family='"Liberation Sans", sans-serif' font-size="10.5" fill="#111" stroke="#111" stroke-width="0.25" text-anchor="middle" font-weight="normal" >-0.5</text>
<line x1="247.5" y1="326.4" x2="247.5" y2="328.2" stroke="#222" stroke-width="1.2" />
<text x="247.5" y="337.6" font-family='"Liberation Sans", sans-serif' font-size="10.5" fill="#111" stroke="#111" stroke-width="0.25" text-anchor="middle" font-weight="normal" >0.0</text>
<line x1="280.29999999999995" y1="326.4" x2="280.29999999999995" y2="328.2" stroke="#222" stroke-width="1.2" />
<text x="280.29999999999995" y="337.6" font-family='"Liberation Sans", sans-serif' font-size="10.5" fill="#111" stroke="#111" stroke-width="0.25" text-anchor="middle" font-weight="normal" >0.5</text>
<line x1="313.09999999999997" y1="326.4" x2="313.09999999999997" y2="328.2" stroke="#222" stroke-width="1.2" />
<text x="313.09999999999997" y="337.6" font-family='"Liberation Sans", sans-serif' font-size="10.5" fill="#111" stroke="#111" stroke-width="0.25" text-anchor="middle" font-weight="normal" >1.0</text>
<line x1="345.9" y1="326.4" x2="345.9" y2="328.2" stroke="#222" stroke-width="1.2" />
<text x="345.9" y="337.6" font-family='"Liberation Sans", sans-serif' font-size="10.5" fill="#111" stroke="#111" stroke-width="0.25" text-anchor="middle" font-weight="normal" >1.5</text>
<text x="281.79999999999995" y="348.2" font-family='"Liberation Sans", sans-serif' font-size="11.2" fill="#111" stroke="#111" stroke-width="0.25" text-anchor="middle" font-weight="normal" >Bin-wise PR</text>
<text x="340.9" y="235" font-family='"Liberation Sans", sans-serif' font-size="15" fill="#111" stroke="#111" stroke-width="0.25" text-anchor="end" font-weight="normal" >ZM</text>
<clipPath id="cb2"><rect x="376.3" y="218.5" width="131.2" height="107.89999999999998"/></clipPath>
<g clip-path="url(#cb2)">
<polyline points="376.30,325.73 377.61,325.47 378.92,325.05 380.24,324.61 381.55,324.90 382.86,324.75 384.17,324.46 385.48,323.80 386.80,324.17 388.11,323.44 389.42,323.33 390.73,323.64 392.04,323.08 393.36,322.98 394.67,322.83 395.98,322.07 397.29,322.79 398.60,322.68 399.92,321.56 401.23,321.93 402.54,321.96 403.85,321.64 405.16,321.42 406.48,318.81 407.79,317.04 409.10,314.39 410.41,316.29 411.72,318.79 413.04,316.16 414.35,314.18 415.66,312.80 416.97,310.98 418.28,307.80 419.60,305.38 420.91,305.16 422.22,301.62 423.53,299.21 424.84,297.59 426.16,296.56 427.47,293.00 428.78,291.08 430.09,290.38 431.40,286.20 432.72,284.27 434.03,281.71 435.34,277.93 436.65,274.91 437.96,271.73 439.28,268.06 440.59,264.55 441.90,260.96 443.21,257.65 444.52,254.33 445.84,251.59 447.15,249.57 448.46,246.64 449.77,244.35 451.08,244.95 452.40,244.88 453.71,246.36 455.02,246.09 456.33,244.19 457.64,248.55 458.96,251.83 460.27,256.92 461.58,259.66 462.89,261.86 464.20,266.85 465.52,270.62 466.83,277.25 468.14,280.60 469.45,283.72 470.76,288.66 472.08,291.78 473.39,296.40 474.70,301.41 476.01,305.38 477.32,307.74 478.64,311.01 479.95,312.63 481.26,314.17 482.57,315.41 483.88,317.02 485.20,319.01 486.51,320.35 487.82,321.41 489.13,322.26 490.44,322.48 491.76,322.55 493.07,322.85 494.38,323.74 495.69,323.98 497.00,324.27 498.32,324.05 499.63,324.40 500.94,324.48 502.25,324.86 503.56,325.48 504.88,325.25 506.19,325.27 507.50,325.98" fill="none" stroke="#2b2d8f" stroke-width="1.3" stroke-dasharray="1.2,1.1" stroke-linejoin="round" />
<polyline points="376.30,326.08 377.61,325.89 378.92,325.73 380.24,325.14 381.55,325.38 382.86,325.10 384.17,325.53 385.48,325.09 386.80,324.71 388.11,324.89 389.42,324.43 390.73,324.39 392.04,324.74 393.36,324.97 394.67,324.21 395.98,324.68 397.29,324.69 398.60,323.95 399.92,323.75 401.23,323.66 402.54,323.46 403.85,323.95 405.16,323.87 406.48,323.43 407.79,322.10 409.10,322.48 410.41,322.24 411.72,322.19 413.04,321.34 414.35,320.52 415.66,319.32 416.97,318.71 418.28,317.68 419.60,316.02 420.91,316.20 422.22,314.44 423.53,312.90 424.84,311.52 426.16,309.88 427.47,307.90 428.78,306.59 430.09,305.65 431.40,303.62 432.72,301.98 434.03,299.80 435.34,296.56 436.65,294.76 437.96,292.54 439.28,288.34 440.59,284.33 441.90,281.88 443.21,277.82 444.52,274.77 445.84,270.20 447.15,264.00 448.46,260.95 449.77,256.49 451.08,252.71 452.40,249.49 453.71,245.92 455.02,242.01 456.33,235.58 457.64,233.15 458.96,229.36 460.27,227.44 461.58,228.78 462.89,231.55 464.20,235.49 465.52,240.54 466.83,246.46 468.14,252.51 469.45,257.44 470.76,261.86 472.08,268.54 473.39,272.17 474.70,278.36 476.01,283.44 477.32,288.19 478.64,293.61 479.95,299.80 481.26,303.31 482.57,306.44 483.88,309.00 485.20,309.81 486.51,312.69 487.82,314.44 489.13,317.01 490.44,319.86 491.76,320.50 493.07,321.02 494.38,321.96 495.69,322.79 497.00,323.01 498.32,323.60 499.63,323.87 500.94,324.57 502.25,324.34 503.56,324.45 504.88,325.44 506.19,325.30 507.50,325.79" fill="none" stroke="#e8262b" stroke-width="1.3" stroke-dasharray="1.2,1.1" stroke-linejoin="round" />
<polyline points="376.30,325.26 377.61,325.02 378.92,324.66 380.24,324.93 381.55,324.41 382.86,324.00 384.17,323.79 385.48,324.25 386.80,323.63 388.11,323.47 389.42,323.38 390.73,322.75 392.04,322.97 393.36,322.86 394.67,322.17 395.98,322.28 397.29,322.43 398.60,322.23 399.92,321.84 401.23,322.11 402.54,321.34 403.85,321.01 405.16,321.14 406.48,318.52 407.79,315.40 409.10,312.94 410.41,315.41 411.72,318.78 413.04,316.71 414.35,313.21 415.66,312.06 416.97,310.01 418.28,306.59 419.60,304.64 420.91,303.72 422.22,301.13 423.53,299.14 424.84,296.90 426.16,295.42 427.47,291.89 428.78,290.26 430.09,287.83 431.40,285.29 432.72,282.40 434.03,279.52 435.34,274.27 436.65,271.51 437.96,268.92 439.28,266.96 440.59,263.82 441.90,260.81 443.21,257.22 444.52,254.81 445.84,251.17 447.15,248.28 448.46,245.22 449.77,242.86 451.08,244.11 452.40,244.82 453.71,245.86 455.02,246.14 456.33,246.25 457.64,251.57 458.96,256.27 460.27,259.29 461.58,263.63 462.89,266.68 464.20,272.49 465.52,274.51 466.83,280.61 468.14,283.13 469.45,287.27 470.76,291.49 472.08,293.90 473.39,298.31 474.70,303.37 476.01,306.56 477.32,310.24 478.64,312.69 479.95,314.10 481.26,314.86 482.57,316.22 483.88,318.10 485.20,319.67 486.51,321.09 487.82,322.86 489.13,322.47 490.44,322.61 491.76,323.29 493.07,323.94 494.38,323.80 495.69,323.64 497.00,324.29 498.32,324.70 499.63,324.84 500.94,324.60 502.25,324.89 503.56,325.39 504.88,325.33 506.19,325.43 507.50,325.48" fill="none" stroke="#2b2d8f" stroke-width="1.4" stroke-dasharray="3.5,1.6" stroke-linejoin="round" />
<polyline points="376.30,325.84 377.61,325.71 378.92,325.42 380.24,325.29 381.55,325.22 382.86,325.57 384.17,325.00 385.48,325.36 386.80,325.38 388.11,325.48 389.42,325.04 390.73,325.27 392.04,325.08 393.36,324.71 394.67,324.49 395.98,324.43 397.29,324.93 398.60,324.87 399.92,324.62 401.23,324.28 402.54,323.94 403.85,323.75 405.16,323.41 406.48,323.51 407.79,323.25 409.10,323.36 410.41,322.70 411.72,322.17 413.04,321.18 414.35,320.46 415.66,319.84 416.97,319.41 418.28,318.72 419.60,318.30 420.91,316.93 422.22,316.58 423.53,314.72 424.84,312.98 426.16,312.18 427.47,310.86 428.78,308.98 430.09,306.22 431.40,304.79 432.72,303.93 434.03,301.53 435.34,300.86 436.65,296.39 437.96,295.09 439.28,290.17 440.59,286.31 441.90,284.53 443.21,281.18 444.52,277.24 445.84,272.07 447.15,267.38 448.46,262.43 449.77,258.51 451.08,253.70 452.40,249.99 453.71,244.69 455.02,240.78 456.33,237.03 457.64,230.96 458.96,228.39 460.27,223.60 461.58,225.49 462.89,228.68 464.20,230.98 465.52,236.08 466.83,240.91 468.14,248.51 469.45,252.29 470.76,258.83 472.08,264.39 473.39,268.74 474.70,274.32 476.01,280.87 477.32,286.32 478.64,292.05 479.95,295.94 481.26,300.83 482.57,304.23 483.88,306.33 485.20,309.82 486.51,312.07 487.82,314.36 489.13,316.40 490.44,319.26 491.76,321.15 493.07,321.31 494.38,322.23 495.69,322.17 497.00,322.27 498.32,323.47 499.63,323.12 500.94,323.47 502.25,324.42 503.56,324.42 504.88,324.67 506.19,325.76 507.50,325.89" fill="none" stroke="#e8262b" stroke-width="1.4" stroke-dasharray="3.5,1.6" stroke-linejoin="round" />
<polyline points="376.30,325.28 377.61,324.96 378.92,324.82 380.24,324.57 381.55,324.93 382.86,324.19 384.17,324.39 385.48,324.08 386.80,323.93 388.11,323.62 389.42,324.08 390.73,323.85 392.04,323.38 393.36,323.35 394.67,323.05 395.98,323.27 397.29,322.56 398.60,323.33 399.92,322.49 401.23,322.69 402.54,322.89 403.85,322.10 405.16,322.58 406.48,321.25 407.79,319.57 409.10,318.20 410.41,319.78 411.72,321.47 413.04,318.93 414.35,318.20 415.66,316.47 416.97,314.96 418.28,312.05 419.60,310.94 420.91,308.79 422.22,306.82 423.53,306.03 424.84,304.57 426.16,302.93 427.47,301.55 428.78,299.15 430.09,296.59 431.40,294.91 432.72,291.48 434.03,288.36 435.34,285.73 436.65,283.36 437.96,280.90 439.28,279.29 440.59,275.79 441.90,270.53 443.21,267.56 444.52,262.92 445.84,259.98 447.15,255.11 448.46,252.03 449.77,249.58 451.08,248.54 452.40,248.89 453.71,244.15 455.02,242.57 456.33,237.30 457.64,240.61 458.96,242.04 460.27,241.38 461.58,243.41 462.89,246.28 464.20,250.33 465.52,256.72 466.83,265.76 468.14,268.79 469.45,274.53 470.76,278.68 472.08,283.35 473.39,288.78 474.70,292.45 476.01,296.66 477.32,301.00 478.64,303.96 479.95,307.44 481.26,309.43 482.57,312.72 483.88,314.61 485.20,317.15 486.51,316.99 487.82,318.59 489.13,318.72 490.44,319.69 491.76,320.29 493.07,320.77 494.38,321.39 495.69,322.92 497.00,322.78 498.32,323.73 499.63,324.94 500.94,325.16 502.25,325.17 503.56,325.64 504.88,325.33 506.19,326.03 507.50,325.90" fill="none" stroke="#111" stroke-width="1.5" stroke-linejoin="round" />
</g>
<rect x="376.3" y="218.5" width="131.2" height="107.89999999999998" fill="none" stroke="#2a2a2a" stroke-width="1.4" />
<line x1="374.5" y1="326.4" x2="376.3" y2="326.4" stroke="#222" stroke-width="1.2" />
<text x="373.1" y="330.09999999999997" font-family='"Liberation Sans", sans-serif' font-size="10.5" fill="#111" stroke="#111" stroke-width="0.25" text-anchor="end" font-weight="normal" >0.00</text>
<line x1="374.5" y1="304.82" x2="376.3" y2="304.82" stroke="#222" stroke-width="1.2" />
<text x="373.1" y="308.52" font-family='"Liberation Sans", sans-serif' font-size="10.5" fill="#111" stroke="#111" stroke-width="0.25" text-anchor="end" font-weight="normal" >0.02</text>
<line x1="374.5" y1="283.24" x2="376.3" y2="283.24" stroke="#222" stroke-width="1.2" />
<text x="373.1" y="286.94" font-family='"Liberation Sans", sans-serif' font-size="10.5" fill="#111" stroke="#111" stroke-width="0.25" text-anchor="end" font-weight="normal" >0.04</text>
<line x1="374.5" y1="261.65999999999997" x2="376.3" y2="261.65999999999997" stroke="#222" stroke-width="1.2" />
<text x="373.1" y="265.35999999999996" font-family='"Liberation Sans", sans-serif' font-size="10.5" fill="#111" stroke="#111" stroke-width="0.25" text-anchor="end" font-weight="normal" >0.06</text>
<line x1="374.5" y1="240.07999999999998" x2="376.3" y2="240.07999999999998" stroke="#222" stroke-width="1.2" />
<text x="373.1" y="243.77999999999997" font-family='"Liberation Sans", sans-serif' font-size="10.5" fill="#111" stroke="#111" stroke-width="0.25" text-anchor="end" font-weight="normal" >0.08</text>
<line x1="374.5" y1="218.5" x2="376.3" y2="218.5" stroke="#222" stroke-width="1.2" />
<text x="373.1" y="222.2" font-family='"Liberation Sans", sans-serif' font-size="10.5" fill="#111" stroke="#111" stroke-width="0.25" text-anchor="end" font-weight="normal" >0.10</text>
<line x1="376.3" y1="326.4" x2="376.3" y2="328.2" stroke="#222" stroke-width="1.2" />
<text x="376.3" y="337.6" font-family='"Liberation Sans", sans-serif' font-size="10.5" fill="#111" stroke="#111" stroke-width="0.25" text-anchor="middle" font-weight="normal" >-0.5</text>
<line x1="409.1" y1="326.4" x2="409.1" y2="328.2" stroke="#222" stroke-width="1.2" />
<text x="409.1" y="337.6" font-family='"Liberation Sans", sans-serif' font-size="10.5" fill="#111" stroke="#111" stroke-width="0.25" text-anchor="middle" font-weight="normal" >0.0</text>
<line x1="441.9" y1="326.4" x2="441.9" y2="328.2" stroke="#222" stroke-width="1.2" />
<text x="441.9" y="337.6" font-family='"Liberation Sans", sans-serif' font-size="10.5" fill="#111" stroke="#111" stroke-width="0.25" text-anchor="middle" font-weight="normal" >0.5</text>
<line x1="474.7" y1="326.4" x2="474.7" y2="328.2" stroke="#222" stroke-width="1.2" />
<text x="474.7" y="337.6" font-family='"Liberation Sans", sans-serif' font-size="10.5" fill="#111" stroke="#111" stroke-width="0.25" text-anchor="middle" font-weight="normal" >1.0</text>
<line x1="507.5" y1="326.4" x2="507.5" y2="328.2" stroke="#222" stroke-width="1.2" />
<text x="507.5" y="337.6" font-family='"Liberation Sans", sans-serif' font-size="10.5" fill="#111" stroke="#111" stroke-width="0.25" text-anchor="middle" font-weight="normal" >1.5</text>
<text x="443.4" y="348.2" font-family='"Liberation Sans", sans-serif' font-size="11.2" fill="#111" stroke="#111" stroke-width="0.25" text-anchor="middle" font-weight="normal" >Bin-wise PR</text>
<text x="502.5" y="235" font-family='"Liberation Sans", sans-serif' font-size="15" fill="#111" stroke="#111" stroke-width="0.25" text-anchor="end" font-weight="normal" >NECA</text>
<clipPath id="cb3"><rect x="537.8" y="218.5" width="131.2" height="107.89999999999998"/></clipPath>
<g clip-path="url(#cb3)">
<polyline points="537.80,325.42 539.11,325.46 540.42,325.43 541.74,324.71 543.05,324.91 544.36,324.71 545.67,324.69 546.98,324.70 548.30,324.26 549.61,324.26 550.92,323.94 552.23,323.71 553.54,323.20 554.86,323.24 556.17,323.18 557.48,322.86 558.79,321.94 560.10,322.18 561.42,321.33 562.73,321.03 564.04,321.30 565.35,320.17 566.66,320.67 567.98,317.08 569.29,314.43 570.60,312.88 571.91,313.79 573.22,315.48 574.54,315.57 575.85,312.39 577.16,310.90 578.47,307.14 579.78,305.13 581.10,302.12 582.41,301.72 583.72,298.77 585.03,295.66 586.34,293.29 587.66,292.01 588.97,287.80 590.28,285.52 591.59,284.55 592.90,282.57 594.22,278.83 595.53,276.77 596.84,273.08 598.15,270.49 599.46,267.72 600.78,265.66 602.09,262.35 603.40,258.48 604.71,254.76 606.02,252.52 607.34,248.67 608.65,246.17 609.96,242.27 611.27,244.17 612.58,246.70 613.90,248.60 615.21,249.96 616.52,251.71 617.83,251.96 619.14,254.96 620.46,258.31 621.77,263.00 623.08,264.61 624.39,269.02 625.70,270.38 627.02,274.61 628.33,277.99 629.64,282.35 630.95,286.84 632.26,289.73 633.58,293.45 634.89,299.23 636.20,302.76 637.51,306.19 638.82,310.33 640.14,312.43 641.45,314.02 642.76,314.96 644.07,317.56 645.38,319.28 646.70,320.39 648.01,322.48 649.32,323.55 650.63,324.21 651.94,323.79 653.26,324.41 654.57,324.09 655.88,324.34 657.19,324.49 658.50,325.07 659.82,325.24 661.13,325.48 662.44,325.48 663.75,325.20 665.06,325.83 666.38,325.82 667.69,325.68 669.00,326.08" fill="none" stroke="#2b2d8f" stroke-width="1.3" stroke-dasharray="1.2,1.1" stroke-linejoin="round" />
<polyline points="537.80,325.75 539.11,326.08 540.42,325.88 541.74,325.84 543.05,325.34 544.36,325.31 545.67,325.05 546.98,325.64 548.30,325.28 549.61,325.53 550.92,325.29 552.23,324.97 553.54,325.30 554.86,325.07 556.17,324.60 557.48,324.61 558.79,324.81 560.10,324.41 561.42,324.13 562.73,324.76 564.04,323.97 565.35,323.92 566.66,324.10 567.98,324.13 569.29,323.24 570.60,323.68 571.91,323.76 573.22,323.62 574.54,322.23 575.85,321.30 577.16,319.89 578.47,318.79 579.78,317.85 581.10,316.10 582.41,315.72 583.72,314.30 585.03,312.71 586.34,311.85 587.66,310.27 588.97,309.56 590.28,308.16 591.59,308.19 592.90,306.70 594.22,305.42 595.53,304.69 596.84,303.22 598.15,298.96 599.46,293.94 600.78,288.37 602.09,284.42 603.40,279.76 604.71,275.53 606.02,270.73 607.34,264.35 608.65,260.45 609.96,255.90 611.27,252.39 612.58,246.29 613.90,243.11 615.21,240.41 616.52,236.70 617.83,235.47 619.14,233.54 620.46,231.08 621.77,232.20 623.08,233.91 624.39,236.86 625.70,238.91 627.02,242.27 628.33,249.07 629.64,255.88 630.95,260.66 632.26,267.50 633.58,275.62 634.89,281.41 636.20,288.75 637.51,294.10 638.82,301.91 640.14,308.91 641.45,310.23 642.76,311.01 644.07,312.80 645.38,313.61 646.70,314.49 648.01,316.50 649.32,318.03 650.63,318.40 651.94,320.29 653.26,322.04 654.57,323.37 655.88,324.59 657.19,324.29 658.50,324.31 659.82,324.80 661.13,325.27 662.44,325.15 663.75,324.79 665.06,325.35 666.38,325.15 667.69,325.40 669.00,326.08" fill="none" stroke="#e8262b" stroke-width="1.3" stroke-dasharray="1.2,1.1" stroke-linejoin="round" />
<polyline points="537.80,325.71 539.11,325.05 540.42,325.41 541.74,325.03 543.05,324.74 544.36,324.53 545.67,324.71 546.98,324.57 548.30,324.88 549.61,324.41 550.92,324.36 552.23,323.56 553.54,323.48 554.86,322.92 556.17,322.87 557.48,322.77 558.79,321.73 560.10,321.39 561.42,321.50 562.73,321.44 564.04,320.63 565.35,320.29 566.66,319.62 567.98,316.92 569.29,314.16 570.60,311.17 571.91,313.28 573.22,315.53 574.54,314.74 575.85,310.86 577.16,308.44 578.47,306.90 579.78,303.19 581.10,301.41 582.41,299.85 583.72,295.53 585.03,293.65 586.34,290.22 587.66,288.35 588.97,287.34 590.28,283.44 591.59,280.49 592.90,277.67 594.22,276.61 595.53,273.38 596.84,270.04 598.15,268.54 599.46,263.89 600.78,261.18 602.09,260.18 603.40,255.90 604.71,253.59 606.02,251.17 607.34,247.20 608.65,243.37 609.96,241.56 611.27,244.69 612.58,245.69 613.90,246.95 615.21,248.48 616.52,251.74 617.83,256.78 619.14,257.68 620.46,261.92 621.77,266.55 623.08,269.74 624.39,273.14 625.70,274.93 627.02,279.55 628.33,281.15 629.64,286.72 630.95,289.38 632.26,293.38 633.58,298.12 634.89,301.86 636.20,303.72 637.51,307.43 638.82,312.64 640.14,313.22 641.45,314.41 642.76,316.09 644.07,317.67 645.38,319.86 646.70,320.96 648.01,322.72 649.32,323.85 650.63,324.17 651.94,324.15 653.26,324.25 654.57,324.77 655.88,324.60 657.19,325.24 658.50,325.25 659.82,324.73 661.13,325.29 662.44,325.17 663.75,325.37 665.06,325.73 666.38,325.57 667.69,325.42 669.00,326.00" fill="none" stroke="#2b2d8f" stroke-width="1.4" stroke-dasharray="3.5,1.6" stroke-linejoin="round" />
<polyline points="537.80,325.93 539.11,325.80 540.42,325.51 541.74,326.04 543.05,325.98 544.36,326.08 545.67,326.01 546.98,326.07 548.30,325.93 549.61,325.61 550.92,325.19 552.23,325.40 553.54,325.64 554.86,325.59 556.17,325.32 557.48,325.60 558.79,325.78 560.10,325.12 561.42,325.28 562.73,325.67 564.04,325.68 565.35,325.52 566.66,324.64 567.98,325.22 569.29,324.63 570.60,324.18 571.91,324.86 573.22,324.40 574.54,324.01 575.85,323.17 577.16,323.43 578.47,322.95 579.78,322.54 581.10,322.32 582.41,321.25 583.72,320.66 585.03,319.83 586.34,319.07 587.66,316.98 588.97,315.69 590.28,314.54 591.59,313.77 592.90,311.74 594.22,310.80 595.53,309.61 596.84,307.11 598.15,303.82 599.46,299.46 600.78,294.71 602.09,291.06 603.40,288.02 604.71,282.88 606.02,278.92 607.34,276.06 608.65,269.85 609.96,263.75 611.27,258.37 612.58,250.53 613.90,244.88 615.21,239.66 616.52,233.00 617.83,229.17 619.14,227.10 620.46,227.87 621.77,227.82 623.08,227.07 624.39,228.20 625.70,230.16 627.02,233.78 628.33,243.41 629.64,250.55 630.95,257.41 632.26,262.82 633.58,267.19 634.89,272.25 636.20,278.37 637.51,284.77 638.82,289.43 640.14,295.94 641.45,302.01 642.76,306.92 644.07,311.75 645.38,313.21 646.70,315.20 648.01,315.65 649.32,317.05 650.63,319.09 651.94,319.66 653.26,321.78 654.57,323.31 655.88,324.23 657.19,324.08 658.50,324.48 659.82,324.69 661.13,324.90 662.44,325.24 663.75,325.38 665.06,325.46 666.38,325.50 667.69,325.34 669.00,326.08" fill="none" stroke="#e8262b" stroke-width="1.4" stroke-dasharray="3.5,1.6" stroke-linejoin="round" />
<polyline points="537.80,325.51 539.11,325.33 540.42,325.67 541.74,325.46 543.05,325.68 544.36,325.66 545.67,325.18 546.98,325.08 548.30,324.67 549.61,324.04 550.92,324.43 552.23,323.64 553.54,323.85 554.86,322.98 556.17,322.79 557.48,323.05 558.79,322.17 560.10,322.05 561.42,322.46 562.73,321.87 564.04,321.32 565.35,320.83 566.66,321.38 567.98,319.83 569.29,317.57 570.60,316.39 571.91,318.72 573.22,319.92 574.54,318.54 575.85,317.26 577.16,315.37 578.47,312.82 579.78,311.18 581.10,309.49 582.41,307.28 583.72,305.69 585.03,303.69 586.34,302.20 587.66,300.48 588.97,299.89 590.28,296.06 591.59,294.20 592.90,293.81 594.22,291.28 595.53,290.08 596.84,285.25 598.15,281.35 599.46,278.62 600.78,274.73 602.09,270.06 603.40,268.28 604.71,263.89 606.02,261.27 607.34,256.92 608.65,252.05 609.96,249.17 611.27,249.30 612.58,247.57 613.90,247.24 615.21,245.47 616.52,243.95 617.83,242.61 619.14,244.90 620.46,245.75 621.77,249.22 623.08,248.89 624.39,253.06 625.70,255.18 627.02,260.25 628.33,265.74 629.64,270.90 630.95,275.43 632.26,280.66 633.58,283.94 634.89,289.72 636.20,295.00 637.51,299.62 638.82,304.94 640.14,307.79 641.45,310.18 642.76,310.81 644.07,313.26 645.38,316.54 646.70,318.06 648.01,320.09 649.32,322.23 650.63,323.26 651.94,323.41 653.26,323.37 654.57,323.39 655.88,324.09 657.19,323.74 658.50,323.90 659.82,324.40 661.13,324.26 662.44,324.88 663.75,324.71 665.06,325.31 666.38,325.51 667.69,325.75 669.00,325.69" fill="none" stroke="#111" stroke-width="1.5" stroke-linejoin="round" />
</g>
<rect x="537.8" y="218.5" width="131.2" height="107.89999999999998" fill="none" stroke="#2a2a2a" stroke-width="1.4" />
<line x1="536.0" y1="326.4" x2="537.8" y2="326.4" stroke="#222" stroke-width="1.2" />
<text x="534.5999999999999" y="330.09999999999997" font-family='"Liberation Sans", sans-serif' font-size="10.5" fill="#111" stroke="#111" stroke-width="0.25" text-anchor="end" font-weight="normal" >0.00</text>
<line x1="536.0" y1="304.82" x2="537.8" y2="304.82" stroke="#222" stroke-width="1.2" />
<text x="534.5999999999999" y="308.52" font-family='"Liberation Sans", sans-serif' font-size="10.5" fill="#111" stroke="#111" stroke-width="0.25" text-anchor="end" font-weight="normal" >0.02</text>
<line x1="536.0" y1="283.24" x2="537.8" y2="283.24" stroke="#222" stroke-width="1.2" />
<text x="534.5999999999999" y="286.94" font-family='"Liberation Sans", sans-serif' font-size="10.5" fill="#111" stroke="#111" stroke-width="0.25" text-anchor="end" font-weight="normal" >0.04</text>
<line x1="536.0" y1="261.65999999999997" x2="537.8" y2="261.65999999999997" stroke="#222" stroke-width="1.2" />
<text x="534.5999999999999" y="265.35999999999996" font-family='"Liberation Sans", sans-serif' font-size="10.5" fill="#111" stroke="#111" stroke-width="0.25" text-anchor="end" font-weight="normal" >0.06</text>
<line x1="536.0" y1="240.07999999999998" x2="537.8" y2="240.07999999999998" stroke="#222" stroke-width="1.2" />
<text x="534.5999999999999" y="243.77999999999997" font-family='"Liberation Sans", sans-serif' font-size="10.5" fill="#111" stroke="#111" stroke-width="0.25" text-anchor="end" font-weight="normal" >0.08</text>
<line x1="536.0" y1="218.5" x2="537.8" y2="218.5" stroke="#222" stroke-width="1.2" />
<text x="534.5999999999999" y="222.2" font-family='"Liberation Sans", sans-serif' font-size="10.5" fill="#111" stroke="#111" stroke-width="0.25" text-anchor="end" font-weight="normal" >0.10</text>
<line x1="537.8" y1="326.4" x2="537.8" y2="328.2" stroke="#222" stroke-width="1.2" />
<text x="537.8" y="337.6" font-family='"Liberation Sans", sans-serif' font-size="10.5" fill="#111" stroke="#111" stroke-width="0.25" text-anchor="middle" font-weight="normal" >-0.5</text>
<line x1="570.5999999999999" y1="326.4" x2="570.5999999999999" y2="328.2" stroke="#222" stroke-width="1.2" />
<text x="570.5999999999999" y="337.6" font-family='"Liberation Sans", sans-serif' font-size="10.5" fill="#111" stroke="#111" stroke-width="0.25" text-anchor="middle" font-weight="normal" >0.0</text>
<line x1="603.4" y1="326.4" x2="603.4" y2="328.2" stroke="#222" stroke-width="1.2" />
<text x="603.4" y="337.6" font-family='"Liberation Sans", sans-serif' font-size="10.5" fill="#111" stroke="#111" stroke-width="0.25" text-anchor="middle" font-weight="normal" >0.5</text>
<line x1="636.1999999999999" y1="326.4" x2="636.1999999999999" y2="328.2" stroke="#222" stroke-width="1.2" />
<text x="636.1999999999999" y="337.6" font-family='"Liberation Sans", sans-serif' font-size="10.5" fill="#111" stroke="#111" stroke-width="0.25" text-anchor="middle" font-weight="normal" >1.0</text>
<line x1="669.0" y1="326.4" x2="669.0" y2="328.2" stroke="#222" stroke-width="1.2" />
<text x="669.0" y="337.6" font-family='"Liberation Sans", sans-serif' font-size="10.5" fill="#111" stroke="#111" stroke-width="0.25" text-anchor="middle" font-weight="normal" >1.5</text>
<text x="604.9" y="348.2" font-family='"Liberation Sans", sans-serif' font-size="11.2" fill="#111" stroke="#111" stroke-width="0.25" text-anchor="middle" font-weight="normal" >Bin-wise PR</text>
<text x="664.0" y="235" font-family='"Liberation Sans", sans-serif' font-size="15" fill="#111" stroke="#111" stroke-width="0.25" text-anchor="end" font-weight="normal" >ADN</text>
<text x="0" y="0" transform="translate(25.5,272) rotate(-90)" font-family='"Liberation Sans", sans-serif' font-size="10.1" fill="#111" text-anchor="middle">Probability (norm)</text>
<text x="0" y="364" font-family='"Liberation Sans", sans-serif' font-size="15" fill="#111" stroke="#111" stroke-width="0" text-anchor="start" font-weight="bold" >(c)</text>
<rect x="13.2" y="373" width="36.8" height="19.7" fill="#f2dce0" stroke="none" stroke-width="1" />
<text x="15" y="387.7" font-family='"Liberation Sans", sans-serif' font-size="15" fill="#e5282d" stroke="#e5282d" stroke-width="0.25" text-anchor="start" font-weight="normal" >HF(<tspan font-style="italic">t</tspan>)</text>
<rect x="13.2" y="395.9" width="36.8" height="19.2" fill="#dee3ef" stroke="none" stroke-width="1" />
<text x="15" y="410.3" font-family='"Liberation Sans", sans-serif' font-size="15" fill="#3a59a6" stroke="#3a59a6" stroke-width="0.25" text-anchor="start" font-weight="normal" >LF(<tspan font-style="italic">t</tspan>)</text>
<rect x="12.8" y="420" width="49" height="20.7" fill="none" stroke="#e8262b" stroke-width="1.2" stroke-dasharray="2.5,1.8" />
<text x="15.2" y="436" font-family='"Liberation Sans", sans-serif' font-size="15.4" fill="#e5282d" stroke="#e5282d" stroke-width="0.25" text-anchor="start" font-weight="normal" >HF(<tspan font-style="italic">t</tspan>-<tspan font-family='"Liberation Serif", serif' font-style="italic">τ</tspan>)</text>
<rect x="12.8" y="443" width="49" height="20.2" fill="none" stroke="#3350a8" stroke-width="1.2" stroke-dasharray="2.5,1.8" />
<text x="15.2" y="458.8" font-family='"Liberation Sans", sans-serif' font-size="15.4" fill="#3a59a6" stroke="#3a59a6" stroke-width="0.25" text-anchor="start" font-weight="normal" >LF(<tspan font-style="italic">t</tspan>-<tspan font-family='"Liberation Serif", serif' font-style="italic">τ</tspan>)</text>
<rect x="61.4" y="389.2" width="72.6" height="10.2" fill="#dee3ef" stroke="none" stroke-width="1" />
<rect x="134" y="389.2" width="87" height="10.2" fill="#f2dce0" stroke="none" stroke-width="1" />
<rect x="221" y="389.2" width="63.69999999999999" height="10.2" fill="#dee3ef" stroke="none" stroke-width="1" />
<rect x="284.7" y="389.2" width="49.69999999999999" height="10.2" fill="#f2dce0" stroke="none" stroke-width="1" />
<rect x="334.4" y="389.2" width="102.60000000000002" height="10.2" fill="#dee3ef" stroke="none" stroke-width="1" />
<rect x="437" y="389.2" width="31.69999999999999" height="10.2" fill="#f2dce0" stroke="none" stroke-width="1" />
<rect x="75" y="435.6" width="59" height="10.2" fill="#dee3ef" stroke="none" stroke-width="1" />
<rect x="134" y="435.6" width="87" height="10.2" fill="#f2dce0" stroke="none" stroke-width="1" />
<rect x="221" y="435.6" width="63.69999999999999" height="10.2" fill="#dee3ef" stroke="none" stroke-width="1" />
<rect x="284.7" y="435.6" width="49.69999999999999" height="10.2" fill="#f2dce0" stroke="none" stroke-width="1" />
<rect x="334.4" y="435.6" width="102.60000000000002" height="10.2" fill="#dee3ef" stroke="none" stroke-width="1" />
<rect x="437" y="435.6" width="31.69999999999999" height="10.2" fill="#f2dce0" stroke="none" stroke-width="1" />
<line x1="75" y1="435.5" x2="165.3" y2="435.5" stroke="#2b2d8f" stroke-width="1.1" stroke-dasharray="2.5,1.8" />
<line x1="75" y1="445.7" x2="165.3" y2="445.7" stroke="#2b2d8f" stroke-width="1.1" stroke-dasharray="2.5,1.8" />
<line x1="165.3" y1="435.5" x2="252.3" y2="435.5" stroke="#e8262b" stroke-width="1.1" stroke-dasharray="2.5,1.8" />
<line x1="165.3" y1="445.7" x2="252.3" y2="445.7" stroke="#e8262b" stroke-width="1.1" stroke-dasharray="2.5,1.8" />
<line x1="252.3" y1="435.5" x2="316.0" y2="435.5" stroke="#2b2d8f" stroke-width="1.1" stroke-dasharray="2.5,1.8" />
<line x1="252.3" y1="445.7" x2="316.0" y2="445.7" stroke="#2b2d8f" stroke-width="1.1" stroke-dasharray="2.5,1.8" />
<line x1="316.0" y1="435.5" x2="365.7" y2="435.5" stroke="#e8262b" stroke-width="1.1" stroke-dasharray="2.5,1.8" />
<line x1="316.0" y1="445.7" x2="365.7" y2="445.7" stroke="#e8262b" stroke-width="1.1" stroke-dasharray="2.5,1.8" />
<line x1="365.7" y1="435.5" x2="468.3" y2="435.5" stroke="#2b2d8f" stroke-width="1.1" stroke-dasharray="2.5,1.8" />
<line x1="365.7" y1="445.7" x2="468.3" y2="445.7" stroke="#2b2d8f" stroke-width="1.1" stroke-dasharray="2.5,1.8" />
<line x1="468.3" y1="435.5" x2="468.7" y2="435.5" stroke="#e8262b" stroke-width="1.1" stroke-dasharray="2.5,1.8" />
<line x1="468.3" y1="445.7" x2="468.7" y2="445.7" stroke="#e8262b" stroke-width="1.1" stroke-dasharray="2.5,1.8" />
<line x1="468.7" y1="435.5" x2="468.7" y2="445.7" stroke="#2b2d8f" stroke-width="1.1" stroke-dasharray="2.5,1.8" />
<line x1="165.3" y1="435.5" x2="165.3" y2="445.7" stroke="#2b2d8f" stroke-width="1.2" stroke-dasharray="2,1.5" />
<line x1="165.3" y1="435.5" x2="165.3" y2="445.7" stroke="#e8262b" stroke-width="1.2" stroke-dasharray="1.5,2" stroke-dashoffset="-2"/>
<line x1="252.3" y1="435.5" x2="252.3" y2="445.7" stroke="#2b2d8f" stroke-width="1.2" stroke-dasharray="2,1.5" />
<line x1="252.3" y1="435.5" x2="252.3" y2="445.7" stroke="#e8262b" stroke-width="1.2" stroke-dasharray="1.5,2" stroke-dashoffset="-2"/>
<line x1="316.0" y1="435.5" x2="316.0" y2="445.7" stroke="#2b2d8f" stroke-width="1.2" stroke-dasharray="2,1.5" />
<line x1="316.0" y1="435.5" x2="316.0" y2="445.7" stroke="#e8262b" stroke-width="1.2" stroke-dasharray="1.5,2" stroke-dashoffset="-2"/>
<line x1="365.7" y1="435.5" x2="365.7" y2="445.7" stroke="#2b2d8f" stroke-width="1.2" stroke-dasharray="2,1.5" />
<line x1="365.7" y1="435.5" x2="365.7" y2="445.7" stroke="#e8262b" stroke-width="1.2" stroke-dasharray="1.5,2" stroke-dashoffset="-2"/>
<line x1="468.3" y1="435.5" x2="468.3" y2="445.7" stroke="#2b2d8f" stroke-width="1.2" stroke-dasharray="2,1.5" />
<line x1="468.3" y1="435.5" x2="468.3" y2="445.7" stroke="#e8262b" stroke-width="1.2" stroke-dasharray="1.5,2" stroke-dashoffset="-2"/>
<line x1="131.4" y1="399.6" x2="163.70000000000002" y2="435.5" stroke="#2b2d8f" stroke-width="1.3" stroke-dasharray="2.4,2" />
<line x1="135.2" y1="399.6" x2="165.5" y2="435.5" stroke="#e8262b" stroke-width="1.3" stroke-dasharray="2.4,2" />
<line x1="134.0" y1="382.9" x2="159.2" y2="382.9" stroke="#111" stroke-width="1.7" />
<polygon points="165.5,382.9 156.50,387.10 157.58,382.90 156.50,378.70" fill="#111"/>
<text x="149.0" y="377.8" font-family='"Liberation Serif", serif' font-size="15.5" fill="#111" stroke="#111" stroke-width="0.25" text-anchor="middle" font-weight="normal" ><tspan font-family='"Liberation Serif", serif' font-style="italic">τ</tspan></text>
<line x1="218.4" y1="399.6" x2="250.70000000000002" y2="435.5" stroke="#e8262b" stroke-width="1.3" stroke-dasharray="2.4,2" />
<line x1="222.2" y1="399.6" x2="252.5" y2="435.5" stroke="#2b2d8f" stroke-width="1.3" stroke-dasharray="2.4,2" />
<line x1="221.0" y1="382.9" x2="246.2" y2="382.9" stroke="#111" stroke-width="1.7" />
<polygon points="252.5,382.9 243.50,387.10 244.58,382.90 243.50,378.70" fill="#111"/>
<text x="236.0" y="377.8" font-family='"Liberation Serif", serif' font-size="15.5" fill="#111" stroke="#111" stroke-width="0.25" text-anchor="middle" font-weight="normal" ><tspan font-family='"Liberation Serif", serif' font-style="italic">τ</tspan></text>
<line x1="282.09999999999997" y1="399.6" x2="314.4" y2="435.5" stroke="#2b2d8f" stroke-width="1.3" stroke-dasharray="2.4,2" />
<line x1="285.9" y1="399.6" x2="316.2" y2="435.5" stroke="#e8262b" stroke-width="1.3" stroke-dasharray="2.4,2" />
<line x1="284.7" y1="382.9" x2="309.9" y2="382.9" stroke="#111" stroke-width="1.7" />
<polygon points="316.2,382.9 307.20,387.10 308.28,382.90 307.20,378.70" fill="#111"/>
<text x="299.7" y="377.8" font-family='"Liberation Serif", serif' font-size="15.5" fill="#111" stroke="#111" stroke-width="0.25" text-anchor="middle" font-weight="normal" ><tspan font-family='"Liberation Serif", serif' font-style="italic">τ</tspan></text>
<line x1="331.79999999999995" y1="399.6" x2="364.09999999999997" y2="435.5" stroke="#e8262b" stroke-width="1.3" stroke-dasharray="2.4,2" />
<line x1="335.59999999999997" y1="399.6" x2="365.9" y2="435.5" stroke="#2b2d8f" stroke-width="1.3" stroke-dasharray="2.4,2" />
<line x1="334.4" y1="382.9" x2="359.59999999999997" y2="382.9" stroke="#111" stroke-width="1.7" />
<polygon points="365.9,382.9 356.90,387.10 357.98,382.90 356.90,378.70" fill="#111"/>
<text x="349.4" y="377.8" font-family='"Liberation Serif", serif' font-size="15.5" fill="#111" stroke="#111" stroke-width="0.25" text-anchor="middle" font-weight="normal" ><tspan font-family='"Liberation Serif", serif' font-style="italic">τ</tspan></text>
<line x1="434.4" y1="399.6" x2="466.7" y2="435.5" stroke="#2b2d8f" stroke-width="1.3" stroke-dasharray="2.4,2" />
<line x1="438.2" y1="399.6" x2="468.5" y2="435.5" stroke="#e8262b" stroke-width="1.3" stroke-dasharray="2.4,2" />
<line x1="437.0" y1="382.9" x2="462.2" y2="382.9" stroke="#111" stroke-width="1.7" />
<polygon points="468.5,382.9 459.50,387.10 460.58,382.90 459.50,378.70" fill="#111"/>
<text x="452.0" y="377.8" font-family='"Liberation Serif", serif' font-size="15.5" fill="#111" stroke="#111" stroke-width="0.25" text-anchor="middle" font-weight="normal" ><tspan font-family='"Liberation Serif", serif' font-style="italic">τ</tspan></text>
<line x1="120.3" y1="476.6" x2="455" y2="476.6" stroke="#111" stroke-width="1.3" />
<polygon points="461,476.6 452.00,480.20 453.08,476.60 452.00,473.00" fill="#111"/>
<text x="271.3" y="493.8" font-family='"Liberation Sans", sans-serif' font-size="14.5" fill="#111" stroke="#111" stroke-width="0.25" text-anchor="start" font-weight="normal" >Time, <tspan font-style="italic">t</tspan></text>
<line x1="499" y1="478" x2="499" y2="362" stroke="#111" stroke-width="1.4" />
<polygon points="499,355.2 503.20,365.20 499.00,364.00 494.80,365.20" fill="#111"/>
<line x1="498.5" y1="477.8" x2="668" y2="477.8" stroke="#111" stroke-width="1.4" />
<polygon points="676.2,477.8 666.20,482.00 667.40,477.80 666.20,473.60" fill="#111"/>
<text x="0" y="0" transform="translate(493.3,414.5) rotate(-90)" font-family='"Liberation Sans", sans-serif' font-size="10.3" fill="#111" text-anchor="middle">Fraction in HF</text>
<text x="578.4" y="494" font-family='"Liberation Serif", serif' font-size="16.5" fill="#111" stroke="#111" stroke-width="0.25" text-anchor="middle" font-weight="normal" ><tspan font-family='"Liberation Serif", serif' font-style="italic">τ</tspan></text>
<polyline points="513.60,377.10 516.59,379.34 519.58,381.45 522.57,383.42 525.56,385.28 528.55,387.01 531.54,388.64 534.53,390.17 537.52,391.61 540.51,392.95 543.50,394.21 546.49,395.40 549.48,396.51 552.47,397.55 555.46,398.52 558.45,399.44 561.44,400.30 564.43,401.10 567.42,401.86 570.41,402.57 573.40,403.24 576.39,403.86 579.38,404.44 582.37,404.99 585.36,405.51 588.35,405.99 591.34,406.44 594.33,406.87 597.32,407.27 600.31,407.64 603.30,407.99 606.29,408.32 609.28,408.63 612.27,408.92 615.26,409.19 618.25,409.45 621.24,409.69 624.23,409.91 627.22,410.12 630.21,410.32 633.20,410.50 636.19,410.68 639.18,410.84 642.17,410.99 645.16,411.13 648.15,411.27 651.14,411.39 654.13,411.51 657.12,411.62 660.11,411.73 663.10,411.82" fill="none" stroke="#e8262b" stroke-width="1.6" stroke-linejoin="round" />
<polyline points="513.60,448.60 516.59,446.41 519.58,444.36 522.57,442.43 525.56,440.63 528.55,438.93 531.54,437.34 534.53,435.85 537.52,434.46 540.51,433.14 543.50,431.91 546.49,430.76 549.48,429.68 552.47,428.66 555.46,427.71 558.45,426.82 561.44,425.98 564.43,425.19 567.42,424.45 570.41,423.76 573.40,423.11 576.39,422.51 579.38,421.94 582.37,421.40 585.36,420.90 588.35,420.43 591.34,419.99 594.33,419.57 597.32,419.18 600.31,418.82 603.30,418.48 606.29,418.15 609.28,417.85 612.27,417.57 615.26,417.31 618.25,417.06 621.24,416.83 624.23,416.61 627.22,416.40 630.21,416.21 633.20,416.03 636.19,415.86 639.18,415.70 642.17,415.55 645.16,415.41 648.15,415.28 651.14,415.16 654.13,415.04 657.12,414.94 660.11,414.83 663.10,414.74" fill="none" stroke="#30409c" stroke-width="1.6" stroke-linejoin="round" />
<text x="533.2" y="363.1" font-family='"Liberation Sans", sans-serif' font-size="11.5" fill="#e5282d" stroke="#e5282d" stroke-width="0.25" text-anchor="start" font-weight="normal" >Start at HF</text>
<text x="533.2" y="377.1" font-family='"Liberation Sans", sans-serif' font-size="11.4" fill="#e5282d" stroke="#e5282d" stroke-width="0.25" text-anchor="start" font-weight="normal" >p(HF(<tspan font-style="italic">t</tspan>) | HF(<tspan font-style="italic">t</tspan>-<tspan font-family='"Liberation Serif", serif' font-style="italic">τ</tspan>)) =</text>
<text x="533.2" y="448.6" font-family='"Liberation Sans", sans-serif' font-size="11.5" fill="#3a59a6" stroke="#3a59a6" stroke-width="0.25" text-anchor="start" font-weight="normal" >Start at LF</text>
<text x="533.2" y="463.2" font-family='"Liberation Sans", sans-serif' font-size="11.4" fill="#3a59a6" stroke="#3a59a6" stroke-width="0.25" text-anchor="start" font-weight="normal" >p(HF(<tspan font-style="italic">t</tspan>) | LF(<tspan font-style="italic">t</tspan>-<tspan font-family='"Liberation Serif", serif' font-style="italic">τ</tspan>)) =</text>
<line x1="632.4" y1="371.5" x2="683.5" y2="371.5" stroke="#111" stroke-width="1.2" />
<rect x="651" y="358.3" width="15.6" height="10.6" fill="#f2dce0" stroke="#e8262b" stroke-width="1.1" stroke-dasharray="2,1.4" rx="2"/>
<rect x="636.2" y="374.2" width="15.8" height="10.2" fill="#f2dce0" stroke="#e8262b" stroke-width="1.1" stroke-dasharray="2,1.4" rx="2"/>
<rect x="664.6" y="374.2" width="15.4" height="10.2" fill="#dee3ef" stroke="#e8262b" stroke-width="1.1" stroke-dasharray="2,1.4" rx="2"/>
<text x="659.3" y="383" font-family='"Liberation Sans", sans-serif' font-size="11" fill="#111" stroke="#111" stroke-width="0.25" text-anchor="middle" font-weight="normal" >+</text>
<line x1="628.6" y1="456.5" x2="680" y2="456.5" stroke="#111" stroke-width="1.2" />
<rect x="647" y="443.9" width="15.5" height="9.7" fill="#f2dce0" stroke="#2b2d8f" stroke-width="1.1" stroke-dasharray="2,1.4" rx="2"/>
<rect x="632.4" y="459" width="15.6" height="10.1" fill="#f2dce0" stroke="#2b2d8f" stroke-width="1.1" stroke-dasharray="2,1.4" rx="2"/>
<rect x="661.6" y="459" width="15.4" height="10.1" fill="#dee3ef" stroke="#2b2d8f" stroke-width="1.1" stroke-dasharray="2,1.4" rx="2"/>
<text x="655" y="467.8" font-family='"Liberation Sans", sans-serif' font-size="11" fill="#111" stroke="#111" stroke-width="0.25" text-anchor="middle" font-weight="normal" >+</text>
<text x="1.5" y="507.2" font-family='"Liberation Sans", sans-serif' font-size="15" fill="#111" stroke="#111" stroke-width="0" text-anchor="start" font-weight="bold" >(d)</text>
<text x="52" y="507.4" font-family='"Liberation Sans", sans-serif' font-size="15" fill="#111" stroke="#111" stroke-width="0" text-anchor="start" font-weight="bold" >A<tspan font-size="9.5" dy="4.2">2A</tspan><tspan dy="-4.2">AR:</tspan></text>
<text x="390" y="507.2" font-family='"Liberation Sans", sans-serif' font-size="15.2" fill="#111" stroke="#111" stroke-width="0" text-anchor="start" font-weight="bold" >Static heterogeneity:</text>
<text x="34.5" y="525.9" font-family='"Liberation Sans", sans-serif' font-size="11.5" fill="#9b2a4c" stroke="#9b2a4c" stroke-width="0.25" text-anchor="start" font-weight="normal" >Start at HF: <tspan font-style="italic">p</tspan>(HF(<tspan font-style="italic">t</tspan>) | HF(<tspan font-style="italic">t</tspan>-<tspan font-family='"Liberation Serif", serif' font-style="italic">τ</tspan>))</text>
<text x="190.4" y="525.9" font-family='"Liberation Sans", sans-serif' font-size="11.5" fill="#2b3795" stroke="#2b3795" stroke-width="0.25" text-anchor="start" font-weight="normal" >Start at LF: <tspan font-style="italic">p</tspan>(HF(<tspan font-style="italic">t</tspan>) | LF(<tspan font-style="italic">t</tspan>-<tspan font-family='"Liberation Serif", serif' font-style="italic">τ</tspan>))</text>
<text x="372.5" y="525.9" font-family='"Liberation Sans", sans-serif' font-size="11.5" fill="#f0a32c" stroke="#f0a32c" stroke-width="0.25" text-anchor="start" font-weight="normal" >Start at HF: <tspan font-style="italic">p</tspan>(HF(<tspan font-style="italic">t</tspan>) | HF(<tspan font-style="italic">t</tspan>-<tspan font-family='"Liberation Serif", serif' font-style="italic">τ</tspan>))</text>
<text x="530.7" y="525.9" font-family='"Liberation Sans", sans-serif' font-size="11.5" fill="#f0a32c" stroke="#f0a32c" stroke-width="0.25" text-anchor="start" font-weight="normal" >Start at LF: <tspan font-style="italic">p</tspan>(HF(<tspan font-style="italic">t</tspan>) | LF(<tspan font-style="italic">t</tspan>-<tspan font-family='"Liberation Serif", serif' font-style="italic">τ</tspan>))</text>
<polyline points="57.40,551.42 60.33,551.44 63.27,551.46 66.20,551.47 69.14,551.48 72.07,551.49 75.00,551.50 77.94,551.50 80.87,551.50 83.80,551.50 86.74,551.50 89.67,551.49 92.61,551.48 95.54,551.47 98.47,551.45 101.41,551.43 104.34,551.41 107.27,551.39 110.21,551.36 113.14,551.34 116.08,551.30 119.01,551.27 121.94,551.23 124.88,551.19 127.81,551.15 130.75,551.11 133.68,551.07 136.61,551.06 139.55,551.04 142.48,551.03 145.41,551.01 148.35,550.98 151.28,550.96 154.22,550.93 157.15,550.90 160.08,550.96 163.02,551.33 165.95,551.69 168.88,552.05 171.82,552.41 174.75,552.76 174.75,558.65 171.82,558.09 168.88,557.52 165.95,556.96 163.02,556.40 160.08,555.85 157.15,555.60 154.22,555.46 151.28,555.31 148.35,555.17 145.41,555.03 142.48,554.89 139.55,554.75 136.61,554.62 133.68,554.49 130.75,554.39 127.81,554.30 124.88,554.22 121.94,554.14 119.01,554.06 116.08,553.98 113.14,553.91 110.21,553.84 107.27,553.77 104.34,553.71 101.41,553.64 98.47,553.58 95.54,553.53 92.61,553.47 89.67,553.42 86.74,553.37 83.80,553.33 80.87,553.28 77.94,553.24 75.00,553.20 72.07,553.17 69.14,553.13 66.20,553.10 63.27,553.08 60.33,553.05 57.40,553.03" fill="#f5dfae" stroke="none" stroke-width="0" stroke-linejoin="round" opacity="0.75"/>
<polyline points="57.40,629.87 60.33,629.87 63.27,629.87 66.20,629.86 69.14,629.85 72.07,629.84 75.00,629.83 77.94,629.81 80.87,629.79 83.80,629.77 86.74,629.74 89.67,629.71 92.61,629.68 95.54,629.65 98.47,629.61 101.41,629.57 104.34,629.53 107.27,629.49 110.21,629.44 113.14,629.39 116.08,629.34 119.01,629.28 121.94,629.23 124.88,629.16 127.81,629.10 130.75,629.04 133.68,629.03 136.61,629.17 139.55,629.30 142.48,629.43 145.41,629.56 148.35,629.68 151.28,629.81 154.22,629.92 157.15,630.04 160.08,630.25 163.02,630.77 165.95,631.28 168.88,631.80 171.82,632.31 174.75,632.82 174.75,638.71 171.82,637.99 168.88,637.27 165.95,636.56 163.02,635.85 160.08,635.14 157.15,634.75 154.22,634.45 151.28,634.16 148.35,633.87 145.41,633.58 142.48,633.29 139.55,633.01 136.61,632.73 133.68,632.45 130.75,632.32 127.81,632.25 124.88,632.19 121.94,632.13 119.01,632.07 116.08,632.02 113.14,631.96 110.21,631.91 107.27,631.87 104.34,631.82 101.41,631.78 98.47,631.74 95.54,631.71 92.61,631.67 89.67,631.64 86.74,631.61 83.80,631.59 80.87,631.57 77.94,631.55 75.00,631.53 72.07,631.51 69.14,631.50 66.20,631.49 63.27,631.49 60.33,631.48 57.40,631.48" fill="#f5dfae" stroke="none" stroke-width="0" stroke-linejoin="round" opacity="0.75"/>
<polyline points="57.40,552.23 60.33,552.61 63.27,553.00 66.20,553.38 69.14,553.75 72.07,554.13 75.00,554.50 77.94,554.87 80.87,555.24 83.80,555.54 86.74,555.81 89.67,556.07 92.61,556.34 95.54,556.60 98.47,556.86 101.41,557.11 104.34,557.37 107.27,557.62 110.21,557.82 113.14,557.99 116.08,558.16 119.01,558.32 121.94,558.49 124.88,558.65 127.81,558.80 130.75,558.96 133.68,559.11 136.61,559.26 139.55,559.41 142.48,559.55 145.41,559.76 148.35,560.03 151.28,560.31 154.22,560.58 157.15,560.84 160.08,561.21 163.02,561.88 165.95,562.55 168.88,563.21 171.82,563.88 174.75,564.54 174.75,570.44 171.82,569.56 168.88,568.69 165.95,567.82 163.02,566.96 160.08,566.10 157.15,565.55 154.22,565.10 151.28,564.66 148.35,564.21 145.41,563.77 142.48,563.41 139.55,563.11 136.61,562.82 133.68,562.53 130.75,562.24 127.81,561.95 124.88,561.67 121.94,561.39 119.01,561.11 116.08,560.84 113.14,560.56 110.21,560.29 107.27,560.00 104.34,559.66 101.41,559.32 98.47,558.99 95.54,558.66 92.61,558.33 89.67,558.00 86.74,557.68 83.80,557.36 80.87,557.02 77.94,556.61 75.00,556.21 72.07,555.80 69.14,555.40 66.20,555.01 63.27,554.61 60.33,554.22 57.40,553.83" fill="#e6c4d0" stroke="none" stroke-width="0" stroke-linejoin="round" opacity="0.75"/>
<polyline points="57.40,629.07 60.33,628.76 63.27,628.45 66.20,628.13 69.14,627.82 72.07,627.50 75.00,627.17 77.94,626.85 80.87,626.52 83.80,626.19 86.74,625.86 89.67,625.52 92.61,625.18 95.54,624.84 98.47,624.50 101.41,624.15 104.34,623.80 107.27,623.45 110.21,623.17 113.14,622.95 116.08,622.72 119.01,622.49 121.94,622.25 124.88,622.02 127.81,621.78 130.75,621.54 133.68,621.29 136.61,621.04 139.55,620.79 142.48,620.54 145.41,620.31 148.35,620.11 151.28,619.90 154.22,619.70 157.15,619.51 160.08,619.99 163.02,620.47 165.95,620.95 168.88,621.43 171.82,621.90 174.75,622.37 174.75,628.27 171.82,627.59 168.88,626.91 165.95,626.23 163.02,625.55 160.08,624.88 157.15,624.21 154.22,624.22 151.28,624.25 148.35,624.29 145.41,624.33 142.48,624.40 139.55,624.50 136.61,624.60 133.68,624.71 130.75,624.82 127.81,624.93 124.88,625.04 121.94,625.16 119.01,625.28 116.08,625.40 113.14,625.52 110.21,625.65 107.27,625.83 104.34,626.09 101.41,626.36 98.47,626.63 95.54,626.90 92.61,627.17 89.67,627.45 86.74,627.73 83.80,628.01 80.87,628.30 77.94,628.59 75.00,628.88 72.07,629.17 69.14,629.47 66.20,629.76 63.27,630.07 60.33,630.37 57.40,630.68" fill="#c7cbe6" stroke="none" stroke-width="0" stroke-linejoin="round" opacity="0.75"/>
<polyline points="57.40,552.23 72.75,552.34 81.73,552.40 88.11,552.44 93.05,552.48 97.09,552.51 100.50,552.53 103.46,552.55 106.07,552.57 108.40,552.59 123.75,552.70 132.73,552.76 139.11,552.89 144.05,552.99 148.09,553.07 151.50,553.14 154.46,553.20 157.07,553.25 159.40,553.30 174.75,555.71" fill="none" stroke="#f0a32c" stroke-width="1.5" stroke-linejoin="round" />
<circle cx="57.40" cy="552.23" r="1.2" fill="#f0a32c"/>
<circle cx="72.75" cy="552.34" r="1.2" fill="#f0a32c"/>
<circle cx="81.73" cy="552.40" r="1.2" fill="#f0a32c"/>
<circle cx="88.11" cy="552.44" r="1.2" fill="#f0a32c"/>
<circle cx="93.05" cy="552.48" r="1.2" fill="#f0a32c"/>
<circle cx="97.09" cy="552.51" r="1.2" fill="#f0a32c"/>
<circle cx="100.50" cy="552.53" r="1.2" fill="#f0a32c"/>
<circle cx="103.46" cy="552.55" r="1.2" fill="#f0a32c"/>
<circle cx="106.07" cy="552.57" r="1.2" fill="#f0a32c"/>
<circle cx="108.40" cy="552.59" r="1.2" fill="#f0a32c"/>
<circle cx="123.75" cy="552.70" r="1.2" fill="#f0a32c"/>
<circle cx="132.73" cy="552.76" r="1.2" fill="#f0a32c"/>
<circle cx="139.11" cy="552.89" r="1.2" fill="#f0a32c"/>
<circle cx="144.05" cy="552.99" r="1.2" fill="#f0a32c"/>
<circle cx="148.09" cy="553.07" r="1.2" fill="#f0a32c"/>
<circle cx="151.50" cy="553.14" r="1.2" fill="#f0a32c"/>
<circle cx="154.46" cy="553.20" r="1.2" fill="#f0a32c"/>
<circle cx="157.07" cy="553.25" r="1.2" fill="#f0a32c"/>
<circle cx="159.40" cy="553.30" r="1.2" fill="#f0a32c"/>
<circle cx="174.75" cy="555.71" r="1.2" fill="#f0a32c"/>
<polyline points="57.40,630.68 72.75,630.68 81.73,630.68 88.11,630.68 93.05,630.68 97.09,630.68 100.50,630.68 103.46,630.68 106.07,630.68 108.40,630.68 123.75,630.68 132.73,630.68 139.11,631.12 144.05,631.47 148.09,631.76 151.50,632.00 154.46,632.20 157.07,632.39 159.40,632.55 174.75,635.76" fill="none" stroke="#f0a32c" stroke-width="1.5" stroke-linejoin="round" />
<circle cx="57.40" cy="630.68" r="1.2" fill="#f0a32c"/>
<circle cx="72.75" cy="630.68" r="1.2" fill="#f0a32c"/>
<circle cx="81.73" cy="630.68" r="1.2" fill="#f0a32c"/>
<circle cx="88.11" cy="630.68" r="1.2" fill="#f0a32c"/>
<circle cx="93.05" cy="630.68" r="1.2" fill="#f0a32c"/>
<circle cx="97.09" cy="630.68" r="1.2" fill="#f0a32c"/>
<circle cx="100.50" cy="630.68" r="1.2" fill="#f0a32c"/>
<circle cx="103.46" cy="630.68" r="1.2" fill="#f0a32c"/>
<circle cx="106.07" cy="630.68" r="1.2" fill="#f0a32c"/>
<circle cx="108.40" cy="630.68" r="1.2" fill="#f0a32c"/>
<circle cx="123.75" cy="630.68" r="1.2" fill="#f0a32c"/>
<circle cx="132.73" cy="630.68" r="1.2" fill="#f0a32c"/>
<circle cx="139.11" cy="631.12" r="1.2" fill="#f0a32c"/>
<circle cx="144.05" cy="631.47" r="1.2" fill="#f0a32c"/>
<circle cx="148.09" cy="631.76" r="1.2" fill="#f0a32c"/>
<circle cx="151.50" cy="632.00" r="1.2" fill="#f0a32c"/>
<circle cx="154.46" cy="632.20" r="1.2" fill="#f0a32c"/>
<circle cx="157.07" cy="632.39" r="1.2" fill="#f0a32c"/>
<circle cx="159.40" cy="632.55" r="1.2" fill="#f0a32c"/>
<circle cx="174.75" cy="635.76" r="1.2" fill="#f0a32c"/>
<polyline points="57.40,553.03 72.75,555.06 81.73,556.24 88.11,556.88 93.05,557.38 97.09,557.78 100.50,558.13 103.46,558.42 106.07,558.69 108.40,558.92 123.75,560.07 132.73,560.75 139.11,561.23 144.05,561.60 148.09,562.09 151.50,562.51 154.46,562.87 157.07,563.19 159.40,563.47 174.75,567.49" fill="none" stroke="#9b2a4c" stroke-width="1.5" stroke-linejoin="round" />
<circle cx="57.40" cy="553.03" r="1.2" fill="#9b2a4c"/>
<circle cx="72.75" cy="555.06" r="1.2" fill="#9b2a4c"/>
<circle cx="81.73" cy="556.24" r="1.2" fill="#9b2a4c"/>
<circle cx="88.11" cy="556.88" r="1.2" fill="#9b2a4c"/>
<circle cx="93.05" cy="557.38" r="1.2" fill="#9b2a4c"/>
<circle cx="97.09" cy="557.78" r="1.2" fill="#9b2a4c"/>
<circle cx="100.50" cy="558.13" r="1.2" fill="#9b2a4c"/>
<circle cx="103.46" cy="558.42" r="1.2" fill="#9b2a4c"/>
<circle cx="106.07" cy="558.69" r="1.2" fill="#9b2a4c"/>
<circle cx="108.40" cy="558.92" r="1.2" fill="#9b2a4c"/>
<circle cx="123.75" cy="560.07" r="1.2" fill="#9b2a4c"/>
<circle cx="132.73" cy="560.75" r="1.2" fill="#9b2a4c"/>
<circle cx="139.11" cy="561.23" r="1.2" fill="#9b2a4c"/>
<circle cx="144.05" cy="561.60" r="1.2" fill="#9b2a4c"/>
<circle cx="148.09" cy="562.09" r="1.2" fill="#9b2a4c"/>
<circle cx="151.50" cy="562.51" r="1.2" fill="#9b2a4c"/>
<circle cx="154.46" cy="562.87" r="1.2" fill="#9b2a4c"/>
<circle cx="157.07" cy="563.19" r="1.2" fill="#9b2a4c"/>
<circle cx="159.40" cy="563.47" r="1.2" fill="#9b2a4c"/>
<circle cx="174.75" cy="567.49" r="1.2" fill="#9b2a4c"/>
<polyline points="57.40,629.87 72.75,628.26 81.73,627.32 88.11,626.65 93.05,626.13 97.09,625.71 100.50,625.35 103.46,625.04 106.07,624.76 108.40,624.52 123.75,623.60 132.73,623.06 139.11,622.67 144.05,622.38 148.09,622.21 151.50,622.07 154.46,621.95 157.07,621.84 159.40,622.30 174.75,625.32" fill="none" stroke="#2b3795" stroke-width="1.5" stroke-linejoin="round" />
<circle cx="57.40" cy="629.87" r="1.2" fill="#2b3795"/>
<circle cx="72.75" cy="628.26" r="1.2" fill="#2b3795"/>
<circle cx="81.73" cy="627.32" r="1.2" fill="#2b3795"/>
<circle cx="88.11" cy="626.65" r="1.2" fill="#2b3795"/>
<circle cx="93.05" cy="626.13" r="1.2" fill="#2b3795"/>
<circle cx="97.09" cy="625.71" r="1.2" fill="#2b3795"/>
<circle cx="100.50" cy="625.35" r="1.2" fill="#2b3795"/>
<circle cx="103.46" cy="625.04" r="1.2" fill="#2b3795"/>
<circle cx="106.07" cy="624.76" r="1.2" fill="#2b3795"/>
<circle cx="108.40" cy="624.52" r="1.2" fill="#2b3795"/>
<circle cx="123.75" cy="623.60" r="1.2" fill="#2b3795"/>
<circle cx="132.73" cy="623.06" r="1.2" fill="#2b3795"/>
<circle cx="139.11" cy="622.67" r="1.2" fill="#2b3795"/>
<circle cx="144.05" cy="622.38" r="1.2" fill="#2b3795"/>
<circle cx="148.09" cy="622.21" r="1.2" fill="#2b3795"/>
<circle cx="151.50" cy="622.07" r="1.2" fill="#2b3795"/>
<circle cx="154.46" cy="621.95" r="1.2" fill="#2b3795"/>
<circle cx="157.07" cy="621.84" r="1.2" fill="#2b3795"/>
<circle cx="159.40" cy="622.30" r="1.2" fill="#2b3795"/>
<circle cx="174.75" cy="625.32" r="1.2" fill="#2b3795"/>
<rect x="52.4" y="537.5" width="131.3" height="107.10000000000002" fill="none" stroke="#2a2a2a" stroke-width="1.4" />
<line x1="50.6" y1="644.6" x2="52.4" y2="644.6" stroke="#222" stroke-width="1.2" />
<text x="49.6" y="648.8000000000001" font-family='"Liberation Sans", sans-serif' font-size="12" fill="#111" stroke="#111" stroke-width="0.25" text-anchor="end" font-weight="normal" >0.3</text>
<line x1="50.6" y1="617.825" x2="52.4" y2="617.825" stroke="#222" stroke-width="1.2" />
<text x="49.6" y="622.0250000000001" font-family='"Liberation Sans", sans-serif' font-size="12" fill="#111" stroke="#111" stroke-width="0.25" text-anchor="end" font-weight="normal" >0.4</text>
<line x1="50.6" y1="591.05" x2="52.4" y2="591.05" stroke="#222" stroke-width="1.2" />
<text x="49.6" y="595.25" font-family='"Liberation Sans", sans-serif' font-size="12" fill="#111" stroke="#111" stroke-width="0.25" text-anchor="end" font-weight="normal" >0.5</text>
<line x1="50.6" y1="564.275" x2="52.4" y2="564.275" stroke="#222" stroke-width="1.2" />
<text x="49.6" y="568.475" font-family='"Liberation Sans", sans-serif' font-size="12" fill="#111" stroke="#111" stroke-width="0.25" text-anchor="end" font-weight="normal" >0.6</text>
<line x1="50.6" y1="537.5" x2="52.4" y2="537.5" stroke="#222" stroke-width="1.2" />
<text x="49.6" y="541.7" font-family='"Liberation Sans", sans-serif' font-size="12" fill="#111" stroke="#111" stroke-width="0.25" text-anchor="end" font-weight="normal" >0.7</text>
<line x1="57.4" y1="644.6" x2="57.4" y2="646.4" stroke="#222" stroke-width="1.2" />
<text x="57.4" y="655.3" font-family='"Liberation Sans", sans-serif' font-size="12.2" fill="#111" stroke="#111" stroke-width="0.25" text-anchor="middle" font-weight="normal" >1</text>
<line x1="108.4" y1="644.6" x2="108.4" y2="646.4" stroke="#222" stroke-width="1.2" />
<text x="108.4" y="655.3" font-family='"Liberation Sans", sans-serif' font-size="12.2" fill="#111" stroke="#111" stroke-width="0.25" text-anchor="middle" font-weight="normal" >10</text>
<line x1="159.4" y1="644.6" x2="159.4" y2="646.4" stroke="#222" stroke-width="1.2" />
<text x="159.4" y="655.3" font-family='"Liberation Sans", sans-serif' font-size="12.2" fill="#111" stroke="#111" stroke-width="0.25" text-anchor="middle" font-weight="normal" >100</text>
<text x="119.05000000000001" y="662.8" font-family='"Liberation Sans", sans-serif' font-size="11" fill="#111" stroke="#111" stroke-width="0.25" text-anchor="middle" font-weight="normal" ><tspan font-family='"Liberation Serif", serif' font-style="italic">τ</tspan>, ms</text>
<text x="178.70000000000002" y="553.4" font-family='"Liberation Sans", sans-serif' font-size="15" fill="#111" stroke="#111" stroke-width="0.25" text-anchor="end" font-weight="normal" >APO</text>
<polyline points="219.00,557.58 221.93,557.53 224.87,557.48 227.80,557.43 230.74,557.37 233.67,557.32 236.60,557.26 239.54,557.19 242.47,557.13 245.40,557.06 248.34,556.99 251.27,556.91 254.21,556.83 257.14,556.75 260.07,556.67 263.01,556.59 265.94,556.50 268.87,556.41 271.81,556.34 274.74,556.29 277.68,556.24 280.61,556.19 283.54,556.13 286.48,556.07 289.41,556.01 292.35,555.94 295.28,555.87 298.21,555.80 301.15,555.73 304.08,555.65 307.01,555.57 309.95,555.49 312.88,555.41 315.82,555.32 318.75,555.23 321.68,555.08 324.62,554.73 327.55,554.37 330.48,554.02 333.42,553.66 336.35,553.30 336.35,559.19 333.42,559.34 330.48,559.49 327.55,559.65 324.62,559.81 321.68,559.97 318.75,559.93 315.82,559.84 312.88,559.76 309.95,559.67 307.01,559.59 304.08,559.51 301.15,559.44 298.21,559.36 295.28,559.29 292.35,559.22 289.41,559.16 286.48,559.09 283.54,559.03 280.61,558.98 277.68,558.92 274.74,558.87 271.81,558.82 268.87,558.79 265.94,558.79 263.01,558.80 260.07,558.80 257.14,558.81 254.21,558.83 251.27,558.84 248.34,558.86 245.40,558.88 242.47,558.90 239.54,558.93 236.60,558.96 233.67,558.99 230.74,559.02 227.80,559.06 224.87,559.10 221.93,559.14 219.00,559.19" fill="#f5dfae" stroke="none" stroke-width="0" stroke-linejoin="round" opacity="0.75"/>
<polyline points="219.00,623.72 221.93,623.71 224.87,623.71 227.80,623.70 230.74,623.69 233.67,623.68 236.60,623.67 239.54,623.65 242.47,623.63 245.40,623.61 248.34,623.58 251.27,623.55 254.21,623.52 257.14,623.49 260.07,623.45 263.01,623.41 265.94,623.37 268.87,623.33 271.81,623.28 274.74,623.23 277.68,623.18 280.61,623.12 283.54,623.07 286.48,623.01 289.41,622.94 292.35,622.88 295.28,622.76 298.21,622.54 301.15,622.32 304.08,622.10 307.01,621.87 309.95,621.64 312.88,621.41 315.82,621.18 318.75,620.94 321.68,620.68 324.62,620.32 327.55,619.97 330.48,619.61 333.42,619.26 336.35,618.89 336.35,624.79 333.42,624.94 330.48,625.09 327.55,625.25 324.62,625.40 321.68,625.57 318.75,625.65 315.82,625.70 312.88,625.76 309.95,625.83 307.01,625.89 304.08,625.96 301.15,626.03 298.21,626.10 295.28,626.18 292.35,626.16 289.41,626.09 286.48,626.03 283.54,625.97 280.61,625.91 277.68,625.86 274.74,625.81 271.81,625.76 268.87,625.71 265.94,625.67 263.01,625.62 260.07,625.58 257.14,625.55 254.21,625.51 251.27,625.48 248.34,625.46 245.40,625.43 242.47,625.41 239.54,625.39 236.60,625.37 233.67,625.36 230.74,625.34 227.80,625.33 224.87,625.33 221.93,625.32 219.00,625.32" fill="#f5dfae" stroke="none" stroke-width="0" stroke-linejoin="round" opacity="0.75"/>
<polyline points="219.00,555.97 221.93,556.25 224.87,556.52 227.80,556.79 230.74,557.06 233.67,557.33 236.60,557.59 239.54,557.85 242.47,558.11 245.40,558.36 248.34,558.61 251.27,558.86 254.21,559.11 257.14,559.35 260.07,559.59 263.01,559.83 265.94,560.07 268.87,560.30 271.81,560.46 274.74,560.56 277.68,560.66 280.61,560.76 283.54,560.86 286.48,560.95 289.41,561.04 292.35,561.13 295.28,561.22 298.21,561.30 301.15,561.38 304.08,561.46 307.01,561.53 309.95,561.60 312.88,561.67 315.82,561.74 318.75,561.80 321.68,561.85 324.62,561.86 327.55,561.87 330.48,561.87 333.42,561.87 336.35,561.86 336.35,567.76 333.42,567.55 330.48,567.34 327.55,567.14 324.62,566.94 321.68,566.74 318.75,566.51 315.82,566.27 312.88,566.02 309.95,565.79 307.01,565.55 304.08,565.32 301.15,565.09 298.21,564.86 295.28,564.63 292.35,564.41 289.41,564.19 286.48,563.97 283.54,563.76 280.61,563.55 277.68,563.34 274.74,563.13 271.81,562.93 268.87,562.68 265.94,562.36 263.01,562.04 260.07,561.73 257.14,561.41 254.21,561.10 251.27,560.79 248.34,560.49 245.40,560.18 242.47,559.88 239.54,559.59 236.60,559.29 233.67,559.00 230.74,558.71 227.80,558.43 224.87,558.14 221.93,557.86 219.00,557.58" fill="#e6c4d0" stroke="none" stroke-width="0" stroke-linejoin="round" opacity="0.75"/>
<polyline points="219.00,624.52 221.93,624.24 224.87,623.96 227.80,623.67 230.74,623.39 233.67,623.10 236.60,622.81 239.54,622.51 242.47,622.22 245.40,621.92 248.34,621.61 251.27,621.31 254.21,621.00 257.14,620.69 260.07,620.37 263.01,620.06 265.94,619.74 268.87,619.42 271.81,619.13 274.74,618.86 277.68,618.59 280.61,618.31 283.54,618.03 286.48,617.75 289.41,617.47 292.35,617.18 295.28,616.89 298.21,616.60 301.15,616.31 304.08,616.01 307.01,615.63 309.95,615.13 312.88,614.64 315.82,614.14 318.75,613.64 321.68,613.15 324.62,612.70 327.55,612.25 330.48,611.79 333.42,611.33 336.35,610.86 336.35,616.76 333.42,617.01 330.48,617.26 327.55,617.52 324.62,617.78 321.68,618.04 318.75,618.35 315.82,618.67 312.88,618.99 309.95,619.32 307.01,619.64 304.08,619.87 301.15,620.02 298.21,620.16 295.28,620.31 292.35,620.46 289.41,620.62 286.48,620.78 283.54,620.94 280.61,621.10 277.68,621.27 274.74,621.43 271.81,621.60 268.87,621.80 265.94,622.03 263.01,622.27 260.07,622.51 257.14,622.75 254.21,622.99 251.27,623.24 248.34,623.49 245.40,623.74 242.47,623.99 239.54,624.25 236.60,624.51 233.67,624.77 230.74,625.04 227.80,625.31 224.87,625.58 221.93,625.85 219.00,626.13" fill="#c7cbe6" stroke="none" stroke-width="0" stroke-linejoin="round" opacity="0.75"/>
<polyline points="219.00,558.38 234.35,558.14 243.33,558.00 249.71,557.90 254.65,557.82 258.69,557.76 262.10,557.71 265.06,557.66 267.67,557.62 270.00,557.58 285.35,557.58 294.33,557.58 300.71,557.58 305.65,557.58 309.69,557.58 313.10,557.58 316.06,557.58 318.67,557.58 321.00,557.58 336.35,556.24" fill="none" stroke="#f0a32c" stroke-width="1.5" stroke-linejoin="round" />
<circle cx="219.00" cy="558.38" r="1.2" fill="#f0a32c"/>
<circle cx="234.35" cy="558.14" r="1.2" fill="#f0a32c"/>
<circle cx="243.33" cy="558.00" r="1.2" fill="#f0a32c"/>
<circle cx="249.71" cy="557.90" r="1.2" fill="#f0a32c"/>
<circle cx="254.65" cy="557.82" r="1.2" fill="#f0a32c"/>
<circle cx="258.69" cy="557.76" r="1.2" fill="#f0a32c"/>
<circle cx="262.10" cy="557.71" r="1.2" fill="#f0a32c"/>
<circle cx="265.06" cy="557.66" r="1.2" fill="#f0a32c"/>
<circle cx="267.67" cy="557.62" r="1.2" fill="#f0a32c"/>
<circle cx="270.00" cy="557.58" r="1.2" fill="#f0a32c"/>
<circle cx="285.35" cy="557.58" r="1.2" fill="#f0a32c"/>
<circle cx="294.33" cy="557.58" r="1.2" fill="#f0a32c"/>
<circle cx="300.71" cy="557.58" r="1.2" fill="#f0a32c"/>
<circle cx="305.65" cy="557.58" r="1.2" fill="#f0a32c"/>
<circle cx="309.69" cy="557.58" r="1.2" fill="#f0a32c"/>
<circle cx="313.10" cy="557.58" r="1.2" fill="#f0a32c"/>
<circle cx="316.06" cy="557.58" r="1.2" fill="#f0a32c"/>
<circle cx="318.67" cy="557.58" r="1.2" fill="#f0a32c"/>
<circle cx="321.00" cy="557.58" r="1.2" fill="#f0a32c"/>
<circle cx="336.35" cy="556.24" r="1.2" fill="#f0a32c"/>
<polyline points="219.00,624.52 234.35,624.52 243.33,624.52 249.71,624.52 254.65,624.52 258.69,624.52 262.10,624.52 265.06,624.52 267.67,624.52 270.00,624.52 285.35,624.52 294.33,624.52 300.71,624.20 305.65,623.95 309.69,623.75 313.10,623.58 316.06,623.43 318.67,623.30 321.00,623.18 336.35,621.84" fill="none" stroke="#f0a32c" stroke-width="1.5" stroke-linejoin="round" />
<circle cx="219.00" cy="624.52" r="1.2" fill="#f0a32c"/>
<circle cx="234.35" cy="624.52" r="1.2" fill="#f0a32c"/>
<circle cx="243.33" cy="624.52" r="1.2" fill="#f0a32c"/>
<circle cx="249.71" cy="624.52" r="1.2" fill="#f0a32c"/>
<circle cx="254.65" cy="624.52" r="1.2" fill="#f0a32c"/>
<circle cx="258.69" cy="624.52" r="1.2" fill="#f0a32c"/>
<circle cx="262.10" cy="624.52" r="1.2" fill="#f0a32c"/>
<circle cx="265.06" cy="624.52" r="1.2" fill="#f0a32c"/>
<circle cx="267.67" cy="624.52" r="1.2" fill="#f0a32c"/>
<circle cx="270.00" cy="624.52" r="1.2" fill="#f0a32c"/>
<circle cx="285.35" cy="624.52" r="1.2" fill="#f0a32c"/>
<circle cx="294.33" cy="624.52" r="1.2" fill="#f0a32c"/>
<circle cx="300.71" cy="624.20" r="1.2" fill="#f0a32c"/>
<circle cx="305.65" cy="623.95" r="1.2" fill="#f0a32c"/>
<circle cx="309.69" cy="623.75" r="1.2" fill="#f0a32c"/>
<circle cx="313.10" cy="623.58" r="1.2" fill="#f0a32c"/>
<circle cx="316.06" cy="623.43" r="1.2" fill="#f0a32c"/>
<circle cx="318.67" cy="623.30" r="1.2" fill="#f0a32c"/>
<circle cx="321.00" cy="623.18" r="1.2" fill="#f0a32c"/>
<circle cx="336.35" cy="621.84" r="1.2" fill="#f0a32c"/>
<polyline points="219.00,556.78 234.35,558.23 243.33,559.08 249.71,559.68 254.65,560.15 258.69,560.53 262.10,560.85 265.06,561.13 267.67,561.38 270.00,561.60 285.35,562.40 294.33,562.87 300.71,563.21 305.65,563.47 309.69,563.68 313.10,563.86 316.06,564.02 318.67,564.15 321.00,564.27 336.35,564.81" fill="none" stroke="#9b2a4c" stroke-width="1.5" stroke-linejoin="round" />
<circle cx="219.00" cy="556.78" r="1.2" fill="#9b2a4c"/>
<circle cx="234.35" cy="558.23" r="1.2" fill="#9b2a4c"/>
<circle cx="243.33" cy="559.08" r="1.2" fill="#9b2a4c"/>
<circle cx="249.71" cy="559.68" r="1.2" fill="#9b2a4c"/>
<circle cx="254.65" cy="560.15" r="1.2" fill="#9b2a4c"/>
<circle cx="258.69" cy="560.53" r="1.2" fill="#9b2a4c"/>
<circle cx="262.10" cy="560.85" r="1.2" fill="#9b2a4c"/>
<circle cx="265.06" cy="561.13" r="1.2" fill="#9b2a4c"/>
<circle cx="267.67" cy="561.38" r="1.2" fill="#9b2a4c"/>
<circle cx="270.00" cy="561.60" r="1.2" fill="#9b2a4c"/>
<circle cx="285.35" cy="562.40" r="1.2" fill="#9b2a4c"/>
<circle cx="294.33" cy="562.87" r="1.2" fill="#9b2a4c"/>
<circle cx="300.71" cy="563.21" r="1.2" fill="#9b2a4c"/>
<circle cx="305.65" cy="563.47" r="1.2" fill="#9b2a4c"/>
<circle cx="309.69" cy="563.68" r="1.2" fill="#9b2a4c"/>
<circle cx="313.10" cy="563.86" r="1.2" fill="#9b2a4c"/>
<circle cx="316.06" cy="564.02" r="1.2" fill="#9b2a4c"/>
<circle cx="318.67" cy="564.15" r="1.2" fill="#9b2a4c"/>
<circle cx="321.00" cy="564.27" r="1.2" fill="#9b2a4c"/>
<circle cx="336.35" cy="564.81" r="1.2" fill="#9b2a4c"/>
<polyline points="219.00,625.32 234.35,623.87 243.33,623.02 249.71,622.42 254.65,621.95 258.69,621.57 262.10,621.25 265.06,620.97 267.67,620.72 270.00,620.50 285.35,619.35 294.33,618.67 300.71,618.20 305.65,617.83 309.69,617.26 313.10,616.79 316.06,616.37 318.67,616.01 321.00,615.68 336.35,613.81" fill="none" stroke="#2b3795" stroke-width="1.5" stroke-linejoin="round" />
<circle cx="219.00" cy="625.32" r="1.2" fill="#2b3795"/>
<circle cx="234.35" cy="623.87" r="1.2" fill="#2b3795"/>
<circle cx="243.33" cy="623.02" r="1.2" fill="#2b3795"/>
<circle cx="249.71" cy="622.42" r="1.2" fill="#2b3795"/>
<circle cx="254.65" cy="621.95" r="1.2" fill="#2b3795"/>
<circle cx="258.69" cy="621.57" r="1.2" fill="#2b3795"/>
<circle cx="262.10" cy="621.25" r="1.2" fill="#2b3795"/>
<circle cx="265.06" cy="620.97" r="1.2" fill="#2b3795"/>
<circle cx="267.67" cy="620.72" r="1.2" fill="#2b3795"/>
<circle cx="270.00" cy="620.50" r="1.2" fill="#2b3795"/>
<circle cx="285.35" cy="619.35" r="1.2" fill="#2b3795"/>
<circle cx="294.33" cy="618.67" r="1.2" fill="#2b3795"/>
<circle cx="300.71" cy="618.20" r="1.2" fill="#2b3795"/>
<circle cx="305.65" cy="617.83" r="1.2" fill="#2b3795"/>
<circle cx="309.69" cy="617.26" r="1.2" fill="#2b3795"/>
<circle cx="313.10" cy="616.79" r="1.2" fill="#2b3795"/>
<circle cx="316.06" cy="616.37" r="1.2" fill="#2b3795"/>
<circle cx="318.67" cy="616.01" r="1.2" fill="#2b3795"/>
<circle cx="321.00" cy="615.68" r="1.2" fill="#2b3795"/>
<circle cx="336.35" cy="613.81" r="1.2" fill="#2b3795"/>
<rect x="214.0" y="537.5" width="131.3" height="107.10000000000002" fill="none" stroke="#2a2a2a" stroke-width="1.4" />
<line x1="212.2" y1="644.6" x2="214.0" y2="644.6" stroke="#222" stroke-width="1.2" />
<text x="211.2" y="648.8000000000001" font-family='"Liberation Sans", sans-serif' font-size="12" fill="#111" stroke="#111" stroke-width="0.25" text-anchor="end" font-weight="normal" >0.3</text>
<line x1="212.2" y1="617.825" x2="214.0" y2="617.825" stroke="#222" stroke-width="1.2" />
<text x="211.2" y="622.0250000000001" font-family='"Liberation Sans", sans-serif' font-size="12" fill="#111" stroke="#111" stroke-width="0.25" text-anchor="end" font-weight="normal" >0.4</text>
<line x1="212.2" y1="591.05" x2="214.0" y2="591.05" stroke="#222" stroke-width="1.2" />
<text x="211.2" y="595.25" font-family='"Liberation Sans", sans-serif' font-size="12" fill="#111" stroke="#111" stroke-width="0.25" text-anchor="end" font-weight="normal" >0.5</text>
<line x1="212.2" y1="564.275" x2="214.0" y2="564.275" stroke="#222" stroke-width="1.2" />
<text x="211.2" y="568.475" font-family='"Liberation Sans", sans-serif' font-size="12" fill="#111" stroke="#111" stroke-width="0.25" text-anchor="end" font-weight="normal" >0.6</text>
<line x1="212.2" y1="537.5" x2="214.0" y2="537.5" stroke="#222" stroke-width="1.2" />
<text x="211.2" y="541.7" font-family='"Liberation Sans", sans-serif' font-size="12" fill="#111" stroke="#111" stroke-width="0.25" text-anchor="end" font-weight="normal" >0.7</text>
<line x1="219.0" y1="644.6" x2="219.0" y2="646.4" stroke="#222" stroke-width="1.2" />
<text x="219.0" y="655.3" font-family='"Liberation Sans", sans-serif' font-size="12.2" fill="#111" stroke="#111" stroke-width="0.25" text-anchor="middle" font-weight="normal" >1</text>
<line x1="270.0" y1="644.6" x2="270.0" y2="646.4" stroke="#222" stroke-width="1.2" />
<text x="270.0" y="655.3" font-family='"Liberation Sans", sans-serif' font-size="12.2" fill="#111" stroke="#111" stroke-width="0.25" text-anchor="middle" font-weight="normal" >10</text>
<line x1="321.0" y1="644.6" x2="321.0" y2="646.4" stroke="#222" stroke-width="1.2" />
<text x="321.0" y="655.3" font-family='"Liberation Sans", sans-serif' font-size="12.2" fill="#111" stroke="#111" stroke-width="0.25" text-anchor="middle" font-weight="normal" >100</text>
<text x="280.65" y="662.8" font-family='"Liberation Sans", sans-serif' font-size="11" fill="#111" stroke="#111" stroke-width="0.25" text-anchor="middle" font-weight="normal" ><tspan font-family='"Liberation Serif", serif' font-style="italic">τ</tspan>, ms</text>
<text x="340.3" y="553.4" font-family='"Liberation Sans", sans-serif' font-size="15" fill="#111" stroke="#111" stroke-width="0.25" text-anchor="end" font-weight="normal" >ZM</text>
<polyline points="381.20,558.65 384.13,558.66 387.07,558.66 390.00,558.66 392.94,558.66 395.87,558.66 398.80,558.65 401.74,558.64 404.67,558.63 407.60,558.61 410.54,558.60 413.47,558.57 416.41,558.55 419.34,558.53 422.27,558.50 425.21,558.47 428.14,558.43 431.07,558.40 434.01,558.36 436.94,558.31 439.88,558.27 442.81,558.22 445.74,558.17 448.68,558.12 451.61,558.07 454.55,558.01 457.48,557.95 460.41,557.88 463.35,557.82 466.28,557.75 469.21,557.68 472.15,557.60 475.08,557.53 478.02,557.45 480.95,557.37 483.88,557.30 486.82,557.31 489.75,557.31 492.68,557.32 495.62,557.32 498.55,557.31 498.55,563.21 495.62,563.00 492.68,562.79 489.75,562.59 486.82,562.39 483.88,562.19 480.95,562.07 478.02,561.97 475.08,561.88 472.15,561.79 469.21,561.70 466.28,561.61 463.35,561.52 460.41,561.44 457.48,561.36 454.55,561.29 451.61,561.22 448.68,561.14 445.74,561.08 442.81,561.01 439.88,560.95 436.94,560.89 434.01,560.83 431.07,560.78 428.14,560.72 425.21,560.68 422.27,560.63 419.34,560.59 416.41,560.54 413.47,560.51 410.54,560.47 407.60,560.44 404.67,560.41 401.74,560.38 398.80,560.35 395.87,560.33 392.94,560.31 390.00,560.29 387.07,560.28 384.13,560.27 381.20,560.26" fill="#f5dfae" stroke="none" stroke-width="0" stroke-linejoin="round" opacity="0.75"/>
<polyline points="381.20,622.38 384.13,622.38 387.07,622.37 390.00,622.36 392.94,622.36 395.87,622.34 398.80,622.33 401.74,622.31 404.67,622.29 407.60,622.27 410.54,622.24 413.47,622.21 416.41,622.18 419.34,622.15 422.27,622.11 425.21,622.08 428.14,622.03 431.07,621.99 434.01,621.89 436.94,621.75 439.88,621.61 442.81,621.47 445.74,621.32 448.68,621.17 451.61,621.02 454.55,620.87 457.48,620.71 460.41,620.55 463.35,620.39 466.28,620.23 469.21,619.96 472.15,619.57 475.08,619.18 478.02,618.78 480.95,618.39 483.88,617.96 486.82,617.46 489.75,616.95 492.68,616.44 495.62,615.93 498.55,615.41 498.55,621.31 495.62,621.61 492.68,621.92 489.75,622.23 486.82,622.54 483.88,622.85 480.95,623.09 478.02,623.31 475.08,623.53 472.15,623.75 469.21,623.98 466.28,624.09 463.35,624.10 460.41,624.11 457.48,624.13 454.55,624.15 451.61,624.17 448.68,624.20 445.74,624.22 442.81,624.26 439.88,624.29 436.94,624.32 434.01,624.36 431.07,624.37 428.14,624.33 425.21,624.28 422.27,624.25 419.34,624.21 416.41,624.18 413.47,624.15 410.54,624.12 407.60,624.09 404.67,624.07 401.74,624.05 398.80,624.03 395.87,624.02 392.94,624.00 390.00,624.00 387.07,623.99 384.13,623.98 381.20,623.98" fill="#f5dfae" stroke="none" stroke-width="0" stroke-linejoin="round" opacity="0.75"/>
<polyline points="381.20,556.78 384.13,557.13 387.07,557.48 390.00,557.83 392.94,558.17 395.87,558.52 398.80,558.86 401.74,559.19 404.67,559.53 407.60,559.86 410.54,560.19 413.47,560.51 416.41,560.84 419.34,561.16 422.27,561.47 425.21,561.79 428.14,562.10 431.07,562.41 434.01,562.68 436.94,562.93 439.88,563.17 442.81,563.40 445.74,563.64 448.68,563.87 451.61,564.10 454.55,564.33 457.48,564.55 460.41,564.77 463.35,564.99 466.28,565.21 469.21,565.42 472.15,565.63 475.08,565.84 478.02,566.05 480.95,566.25 483.88,566.54 486.82,567.11 489.75,567.67 492.68,568.24 495.62,568.80 498.55,569.36 498.55,575.25 495.62,574.48 492.68,573.72 489.75,572.95 486.82,572.19 483.88,571.43 480.95,570.95 478.02,570.57 475.08,570.19 472.15,569.82 469.21,569.44 466.28,569.07 463.35,568.70 460.41,568.33 457.48,567.97 454.55,567.61 451.61,567.25 448.68,566.90 445.74,566.54 442.81,566.19 439.88,565.84 436.94,565.50 434.01,565.16 431.07,564.79 428.14,564.40 425.21,564.00 422.27,563.61 419.34,563.22 416.41,562.83 413.47,562.44 410.54,562.06 407.60,561.68 404.67,561.30 401.74,560.93 398.80,560.56 395.87,560.19 392.94,559.82 390.00,559.46 387.07,559.10 384.13,558.74 381.20,558.38" fill="#e6c4d0" stroke="none" stroke-width="0" stroke-linejoin="round" opacity="0.75"/>
<polyline points="381.20,623.72 384.13,623.41 387.07,623.09 390.00,622.78 392.94,622.46 395.87,622.14 398.80,621.82 401.74,621.49 404.67,621.17 407.60,620.83 410.54,620.50 413.47,620.16 416.41,619.83 419.34,619.48 422.27,619.14 425.21,618.79 428.14,618.44 431.07,618.09 434.01,617.75 436.94,617.41 439.88,617.07 442.81,616.73 445.74,616.39 448.68,616.04 451.61,615.69 454.55,615.34 457.48,614.99 460.41,614.63 463.35,614.27 466.28,613.91 469.21,613.51 472.15,613.07 475.08,612.62 478.02,612.18 480.95,611.73 483.88,611.22 486.82,610.51 489.75,609.80 492.68,609.09 495.62,608.37 498.55,607.65 498.55,613.54 495.62,614.05 492.68,614.56 489.75,615.08 486.82,615.59 483.88,616.11 480.95,616.44 478.02,616.70 475.08,616.98 472.15,617.25 469.21,617.53 466.28,617.77 463.35,617.98 460.41,618.19 457.48,618.40 454.55,618.62 451.61,618.84 448.68,619.07 445.74,619.29 442.81,619.52 439.88,619.75 436.94,619.99 434.01,620.22 431.07,620.47 428.14,620.74 425.21,621.00 422.27,621.27 419.34,621.54 416.41,621.82 413.47,622.10 410.54,622.38 407.60,622.66 404.67,622.94 401.74,623.23 398.80,623.52 395.87,623.82 392.94,624.11 390.00,624.41 387.07,624.71 384.13,625.02 381.20,625.32" fill="#c7cbe6" stroke="none" stroke-width="0" stroke-linejoin="round" opacity="0.75"/>
<polyline points="381.20,559.46 396.55,559.50 405.53,559.52 411.91,559.54 416.85,559.55 420.89,559.56 424.30,559.57 427.26,559.58 429.87,559.58 432.20,559.59 447.55,559.63 456.53,559.65 462.91,559.67 467.85,559.68 471.89,559.69 475.30,559.70 478.26,559.71 480.87,559.72 483.20,559.72 498.55,560.26" fill="none" stroke="#f0a32c" stroke-width="1.5" stroke-linejoin="round" />
<circle cx="381.20" cy="559.46" r="1.2" fill="#f0a32c"/>
<circle cx="396.55" cy="559.50" r="1.2" fill="#f0a32c"/>
<circle cx="405.53" cy="559.52" r="1.2" fill="#f0a32c"/>
<circle cx="411.91" cy="559.54" r="1.2" fill="#f0a32c"/>
<circle cx="416.85" cy="559.55" r="1.2" fill="#f0a32c"/>
<circle cx="420.89" cy="559.56" r="1.2" fill="#f0a32c"/>
<circle cx="424.30" cy="559.57" r="1.2" fill="#f0a32c"/>
<circle cx="427.26" cy="559.58" r="1.2" fill="#f0a32c"/>
<circle cx="429.87" cy="559.58" r="1.2" fill="#f0a32c"/>
<circle cx="432.20" cy="559.59" r="1.2" fill="#f0a32c"/>
<circle cx="447.55" cy="559.63" r="1.2" fill="#f0a32c"/>
<circle cx="456.53" cy="559.65" r="1.2" fill="#f0a32c"/>
<circle cx="462.91" cy="559.67" r="1.2" fill="#f0a32c"/>
<circle cx="467.85" cy="559.68" r="1.2" fill="#f0a32c"/>
<circle cx="471.89" cy="559.69" r="1.2" fill="#f0a32c"/>
<circle cx="475.30" cy="559.70" r="1.2" fill="#f0a32c"/>
<circle cx="478.26" cy="559.71" r="1.2" fill="#f0a32c"/>
<circle cx="480.87" cy="559.72" r="1.2" fill="#f0a32c"/>
<circle cx="483.20" cy="559.72" r="1.2" fill="#f0a32c"/>
<circle cx="498.55" cy="560.26" r="1.2" fill="#f0a32c"/>
<polyline points="381.20,623.18 396.55,623.18 405.53,623.18 411.91,623.18 416.85,623.18 420.89,623.18 424.30,623.18 427.26,623.18 429.87,623.18 432.20,623.18 447.55,622.72 456.53,622.45 462.91,622.26 467.85,622.11 471.89,621.69 475.30,621.33 478.26,621.02 480.87,620.75 483.20,620.50 498.55,618.36" fill="none" stroke="#f0a32c" stroke-width="1.5" stroke-linejoin="round" />
<circle cx="381.20" cy="623.18" r="1.2" fill="#f0a32c"/>
<circle cx="396.55" cy="623.18" r="1.2" fill="#f0a32c"/>
<circle cx="405.53" cy="623.18" r="1.2" fill="#f0a32c"/>
<circle cx="411.91" cy="623.18" r="1.2" fill="#f0a32c"/>
<circle cx="416.85" cy="623.18" r="1.2" fill="#f0a32c"/>
<circle cx="420.89" cy="623.18" r="1.2" fill="#f0a32c"/>
<circle cx="424.30" cy="623.18" r="1.2" fill="#f0a32c"/>
<circle cx="427.26" cy="623.18" r="1.2" fill="#f0a32c"/>
<circle cx="429.87" cy="623.18" r="1.2" fill="#f0a32c"/>
<circle cx="432.20" cy="623.18" r="1.2" fill="#f0a32c"/>
<circle cx="447.55" cy="622.72" r="1.2" fill="#f0a32c"/>
<circle cx="456.53" cy="622.45" r="1.2" fill="#f0a32c"/>
<circle cx="462.91" cy="622.26" r="1.2" fill="#f0a32c"/>
<circle cx="467.85" cy="622.11" r="1.2" fill="#f0a32c"/>
<circle cx="471.89" cy="621.69" r="1.2" fill="#f0a32c"/>
<circle cx="475.30" cy="621.33" r="1.2" fill="#f0a32c"/>
<circle cx="478.26" cy="621.02" r="1.2" fill="#f0a32c"/>
<circle cx="480.87" cy="620.75" r="1.2" fill="#f0a32c"/>
<circle cx="483.20" cy="620.50" r="1.2" fill="#f0a32c"/>
<circle cx="498.55" cy="618.36" r="1.2" fill="#f0a32c"/>
<polyline points="381.20,557.58 396.55,559.44 405.53,560.52 411.91,561.29 416.85,561.89 420.89,562.37 424.30,562.79 427.26,563.14 429.87,563.46 432.20,563.74 447.55,565.27 456.53,566.17 462.91,566.80 467.85,567.30 471.89,567.70 475.30,568.04 478.26,568.33 480.87,568.59 483.20,568.83 498.55,572.31" fill="none" stroke="#9b2a4c" stroke-width="1.5" stroke-linejoin="round" />
<circle cx="381.20" cy="557.58" r="1.2" fill="#9b2a4c"/>
<circle cx="396.55" cy="559.44" r="1.2" fill="#9b2a4c"/>
<circle cx="405.53" cy="560.52" r="1.2" fill="#9b2a4c"/>
<circle cx="411.91" cy="561.29" r="1.2" fill="#9b2a4c"/>
<circle cx="416.85" cy="561.89" r="1.2" fill="#9b2a4c"/>
<circle cx="420.89" cy="562.37" r="1.2" fill="#9b2a4c"/>
<circle cx="424.30" cy="562.79" r="1.2" fill="#9b2a4c"/>
<circle cx="427.26" cy="563.14" r="1.2" fill="#9b2a4c"/>
<circle cx="429.87" cy="563.46" r="1.2" fill="#9b2a4c"/>
<circle cx="432.20" cy="563.74" r="1.2" fill="#9b2a4c"/>
<circle cx="447.55" cy="565.27" r="1.2" fill="#9b2a4c"/>
<circle cx="456.53" cy="566.17" r="1.2" fill="#9b2a4c"/>
<circle cx="462.91" cy="566.80" r="1.2" fill="#9b2a4c"/>
<circle cx="467.85" cy="567.30" r="1.2" fill="#9b2a4c"/>
<circle cx="471.89" cy="567.70" r="1.2" fill="#9b2a4c"/>
<circle cx="475.30" cy="568.04" r="1.2" fill="#9b2a4c"/>
<circle cx="478.26" cy="568.33" r="1.2" fill="#9b2a4c"/>
<circle cx="480.87" cy="568.59" r="1.2" fill="#9b2a4c"/>
<circle cx="483.20" cy="568.83" r="1.2" fill="#9b2a4c"/>
<circle cx="498.55" cy="572.31" r="1.2" fill="#9b2a4c"/>
<polyline points="381.20,624.52 396.55,622.91 405.53,621.96 411.91,621.29 416.85,620.78 420.89,620.35 424.30,619.99 427.26,619.68 429.87,619.41 432.20,619.16 447.55,617.66 456.53,616.79 462.91,616.17 467.85,615.68 471.89,615.19 475.30,614.77 478.26,614.41 480.87,614.09 483.20,613.81 498.55,610.60" fill="none" stroke="#2b3795" stroke-width="1.5" stroke-linejoin="round" />
<circle cx="381.20" cy="624.52" r="1.2" fill="#2b3795"/>
<circle cx="396.55" cy="622.91" r="1.2" fill="#2b3795"/>
<circle cx="405.53" cy="621.96" r="1.2" fill="#2b3795"/>
<circle cx="411.91" cy="621.29" r="1.2" fill="#2b3795"/>
<circle cx="416.85" cy="620.78" r="1.2" fill="#2b3795"/>
<circle cx="420.89" cy="620.35" r="1.2" fill="#2b3795"/>
<circle cx="424.30" cy="619.99" r="1.2" fill="#2b3795"/>
<circle cx="427.26" cy="619.68" r="1.2" fill="#2b3795"/>
<circle cx="429.87" cy="619.41" r="1.2" fill="#2b3795"/>
<circle cx="432.20" cy="619.16" r="1.2" fill="#2b3795"/>
<circle cx="447.55" cy="617.66" r="1.2" fill="#2b3795"/>
<circle cx="456.53" cy="616.79" r="1.2" fill="#2b3795"/>
<circle cx="462.91" cy="616.17" r="1.2" fill="#2b3795"/>
<circle cx="467.85" cy="615.68" r="1.2" fill="#2b3795"/>
<circle cx="471.89" cy="615.19" r="1.2" fill="#2b3795"/>
<circle cx="475.30" cy="614.77" r="1.2" fill="#2b3795"/>
<circle cx="478.26" cy="614.41" r="1.2" fill="#2b3795"/>
<circle cx="480.87" cy="614.09" r="1.2" fill="#2b3795"/>
<circle cx="483.20" cy="613.81" r="1.2" fill="#2b3795"/>
<circle cx="498.55" cy="610.60" r="1.2" fill="#2b3795"/>
<rect x="376.2" y="537.5" width="131.3" height="107.10000000000002" fill="none" stroke="#2a2a2a" stroke-width="1.4" />
<line x1="374.4" y1="644.6" x2="376.2" y2="644.6" stroke="#222" stroke-width="1.2" />
<text x="373.4" y="648.8000000000001" font-family='"Liberation Sans", sans-serif' font-size="12" fill="#111" stroke="#111" stroke-width="0.25" text-anchor="end" font-weight="normal" >0.3</text>
<line x1="374.4" y1="617.825" x2="376.2" y2="617.825" stroke="#222" stroke-width="1.2" />
<text x="373.4" y="622.0250000000001" font-family='"Liberation Sans", sans-serif' font-size="12" fill="#111" stroke="#111" stroke-width="0.25" text-anchor="end" font-weight="normal" >0.4</text>
<line x1="374.4" y1="591.05" x2="376.2" y2="591.05" stroke="#222" stroke-width="1.2" />
<text x="373.4" y="595.25" font-family='"Liberation Sans", sans-serif' font-size="12" fill="#111" stroke="#111" stroke-width="0.25" text-anchor="end" font-weight="normal" >0.5</text>
<line x1="374.4" y1="564.275" x2="376.2" y2="564.275" stroke="#222" stroke-width="1.2" />
<text x="373.4" y="568.475" font-family='"Liberation Sans", sans-serif' font-size="12" fill="#111" stroke="#111" stroke-width="0.25" text-anchor="end" font-weight="normal" >0.6</text>
<line x1="374.4" y1="537.5" x2="376.2" y2="537.5" stroke="#222" stroke-width="1.2" />
<text x="373.4" y="541.7" font-family='"Liberation Sans", sans-serif' font-size="12" fill="#111" stroke="#111" stroke-width="0.25" text-anchor="end" font-weight="normal" >0.7</text>
<line x1="381.2" y1="644.6" x2="381.2" y2="646.4" stroke="#222" stroke-width="1.2" />
<text x="381.2" y="655.3" font-family='"Liberation Sans", sans-serif' font-size="12.2" fill="#111" stroke="#111" stroke-width="0.25" text-anchor="middle" font-weight="normal" >1</text>
<line x1="432.2" y1="644.6" x2="432.2" y2="646.4" stroke="#222" stroke-width="1.2" />
<text x="432.2" y="655.3" font-family='"Liberation Sans", sans-serif' font-size="12.2" fill="#111" stroke="#111" stroke-width="0.25" text-anchor="middle" font-weight="normal" >10</text>
<line x1="483.2" y1="644.6" x2="483.2" y2="646.4" stroke="#222" stroke-width="1.2" />
<text x="483.2" y="655.3" font-family='"Liberation Sans", sans-serif' font-size="12.2" fill="#111" stroke="#111" stroke-width="0.25" text-anchor="middle" font-weight="normal" >100</text>
<text x="442.85" y="662.8" font-family='"Liberation Sans", sans-serif' font-size="11" fill="#111" stroke="#111" stroke-width="0.25" text-anchor="middle" font-weight="normal" ><tspan font-family='"Liberation Serif", serif' font-style="italic">τ</tspan>, ms</text>
<text x="502.5" y="553.4" font-family='"Liberation Sans", sans-serif' font-size="15" fill="#111" stroke="#111" stroke-width="0.25" text-anchor="end" font-weight="normal" >NECA</text>
<polyline points="543.20,556.78 546.13,556.82 549.07,556.87 552.00,556.90 554.94,556.94 557.87,556.98 560.80,557.01 563.74,557.04 566.67,557.06 569.60,557.09 572.54,557.11 575.47,557.12 578.41,557.14 581.34,557.15 584.27,557.16 587.21,557.17 590.14,557.17 593.07,557.18 596.01,557.17 598.94,557.15 601.88,557.13 604.81,557.10 607.74,557.07 610.68,557.05 613.61,557.01 616.55,556.98 619.48,556.94 622.41,556.90 625.35,556.86 628.28,556.81 631.21,556.76 634.15,556.71 637.08,556.66 640.02,556.60 642.95,556.54 645.88,556.53 648.82,556.70 651.75,556.85 654.68,557.01 657.62,557.16 660.55,557.31 660.55,563.21 657.62,562.84 654.68,562.49 651.75,562.13 648.82,561.78 645.88,561.42 642.95,561.25 640.02,561.13 637.08,561.01 634.15,560.89 631.21,560.78 628.28,560.67 625.35,560.57 622.41,560.46 619.48,560.36 616.55,560.26 613.61,560.16 610.68,560.07 607.74,559.98 604.81,559.89 601.88,559.80 598.94,559.72 596.01,559.64 593.07,559.56 590.14,559.47 587.21,559.38 584.27,559.29 581.34,559.21 578.41,559.13 575.47,559.05 572.54,558.98 569.60,558.91 566.67,558.84 563.74,558.77 560.80,558.71 557.87,558.65 554.94,558.59 552.00,558.54 549.07,558.48 546.13,558.43 543.20,558.38" fill="#f5dfae" stroke="none" stroke-width="0" stroke-linejoin="round" opacity="0.75"/>
<polyline points="543.20,624.52 546.13,624.47 549.07,624.42 552.00,624.37 554.94,624.31 557.87,624.25 560.80,624.19 563.74,624.13 566.67,624.06 569.60,623.99 572.54,623.92 575.47,623.85 578.41,623.77 581.34,623.69 584.27,623.61 587.21,623.52 590.14,623.44 593.07,623.35 596.01,623.21 598.94,623.05 601.88,622.89 604.81,622.73 607.74,622.56 610.68,622.39 613.61,622.21 616.55,622.04 619.48,621.86 622.41,621.68 625.35,621.50 628.28,621.31 631.21,621.10 634.15,620.86 637.08,620.63 640.02,620.39 642.95,620.14 645.88,619.85 648.82,619.40 651.75,618.94 654.68,618.48 657.62,618.02 660.55,617.56 660.55,623.45 657.62,623.70 654.68,623.96 651.75,624.21 648.82,624.47 645.88,624.74 642.95,624.85 640.02,624.91 637.08,624.98 634.15,625.05 631.21,625.12 628.28,625.17 625.35,625.20 622.41,625.24 619.48,625.28 616.55,625.32 613.61,625.36 610.68,625.41 607.74,625.46 604.81,625.51 601.88,625.57 598.94,625.63 596.01,625.69 593.07,625.73 590.14,625.73 587.21,625.73 584.27,625.74 581.34,625.75 578.41,625.76 575.47,625.78 572.54,625.80 569.60,625.82 566.67,625.84 563.74,625.87 560.80,625.90 557.87,625.93 554.94,625.96 552.00,626.00 549.07,626.04 546.13,626.08 543.20,626.13" fill="#f5dfae" stroke="none" stroke-width="0" stroke-linejoin="round" opacity="0.75"/>
<polyline points="543.20,554.10 546.13,554.64 549.07,555.17 552.00,555.71 554.94,556.24 557.87,556.76 560.80,557.29 563.74,557.81 566.67,558.33 569.60,558.84 572.54,559.36 575.47,559.87 578.41,560.38 581.34,560.88 584.27,561.39 587.21,561.89 590.14,562.38 593.07,562.88 596.01,563.27 598.94,563.61 601.88,563.94 604.81,564.27 607.74,564.60 610.68,564.93 613.61,565.25 616.55,565.57 619.48,565.88 622.41,566.20 625.35,566.51 628.28,566.82 631.21,567.12 634.15,567.43 637.08,567.73 640.02,568.03 642.95,568.32 645.88,568.70 648.82,569.38 651.75,570.04 654.68,570.71 657.62,571.38 660.55,572.04 660.55,577.93 657.62,577.06 654.68,576.19 651.75,575.32 648.82,574.45 645.88,573.59 642.95,573.03 640.02,572.55 637.08,572.08 634.15,571.61 631.21,571.14 628.28,570.68 625.35,570.22 622.41,569.76 619.48,569.30 616.55,568.85 613.61,568.40 610.68,567.95 607.74,567.50 604.81,567.06 601.88,566.62 598.94,566.18 596.01,565.75 593.07,565.26 590.14,564.68 587.21,564.09 584.27,563.52 581.34,562.94 578.41,562.37 575.47,561.80 572.54,561.23 569.60,560.67 566.67,560.11 563.74,559.55 560.80,558.99 557.87,558.44 554.94,557.88 552.00,557.34 549.07,556.79 546.13,556.25 543.20,555.71" fill="#e6c4d0" stroke="none" stroke-width="0" stroke-linejoin="round" opacity="0.75"/>
<polyline points="543.20,630.41 546.13,629.87 549.07,629.33 552.00,628.78 554.94,628.23 557.87,627.68 560.80,627.13 563.74,626.57 566.67,626.01 569.60,625.45 572.54,624.88 575.47,624.32 578.41,623.75 581.34,623.17 584.27,622.60 587.21,622.02 590.14,621.44 593.07,620.86 596.01,620.40 598.94,620.02 601.88,619.64 604.81,619.25 607.74,618.86 610.68,618.47 613.61,618.08 616.55,617.68 619.48,617.28 622.41,616.88 625.35,616.48 628.28,616.07 631.21,615.70 634.15,615.36 637.08,615.02 640.02,614.68 642.95,614.33 645.88,613.92 648.82,613.32 651.75,612.71 654.68,612.09 657.62,611.48 660.55,610.86 660.55,616.76 657.62,617.16 654.68,617.57 651.75,617.98 648.82,618.40 645.88,618.81 642.95,619.03 640.02,619.20 637.08,619.37 634.15,619.54 631.21,619.72 628.28,619.93 625.35,620.19 622.41,620.44 619.48,620.70 616.55,620.96 613.61,621.23 610.68,621.50 607.74,621.77 604.81,622.04 601.88,622.32 598.94,622.59 596.01,622.87 593.07,623.24 590.14,623.73 587.21,624.23 584.27,624.73 581.34,625.23 578.41,625.74 575.47,626.25 572.54,626.76 569.60,627.27 566.67,627.79 563.74,628.31 560.80,628.83 557.87,629.35 554.94,629.88 552.00,630.41 549.07,630.94 546.13,631.48 543.20,632.02" fill="#c7cbe6" stroke="none" stroke-width="0" stroke-linejoin="round" opacity="0.75"/>
<polyline points="543.20,557.58 558.55,557.82 567.53,557.96 573.91,558.06 578.85,558.14 582.89,558.21 586.30,558.26 589.26,558.31 591.87,558.35 594.20,558.38 609.55,558.55 618.53,558.64 624.91,558.71 629.85,558.76 633.89,558.80 637.30,558.84 640.26,558.87 642.87,558.90 645.20,558.92 660.55,560.26" fill="none" stroke="#f0a32c" stroke-width="1.5" stroke-linejoin="round" />
<circle cx="543.20" cy="557.58" r="1.2" fill="#f0a32c"/>
<circle cx="558.55" cy="557.82" r="1.2" fill="#f0a32c"/>
<circle cx="567.53" cy="557.96" r="1.2" fill="#f0a32c"/>
<circle cx="573.91" cy="558.06" r="1.2" fill="#f0a32c"/>
<circle cx="578.85" cy="558.14" r="1.2" fill="#f0a32c"/>
<circle cx="582.89" cy="558.21" r="1.2" fill="#f0a32c"/>
<circle cx="586.30" cy="558.26" r="1.2" fill="#f0a32c"/>
<circle cx="589.26" cy="558.31" r="1.2" fill="#f0a32c"/>
<circle cx="591.87" cy="558.35" r="1.2" fill="#f0a32c"/>
<circle cx="594.20" cy="558.38" r="1.2" fill="#f0a32c"/>
<circle cx="609.55" cy="558.55" r="1.2" fill="#f0a32c"/>
<circle cx="618.53" cy="558.64" r="1.2" fill="#f0a32c"/>
<circle cx="624.91" cy="558.71" r="1.2" fill="#f0a32c"/>
<circle cx="629.85" cy="558.76" r="1.2" fill="#f0a32c"/>
<circle cx="633.89" cy="558.80" r="1.2" fill="#f0a32c"/>
<circle cx="637.30" cy="558.84" r="1.2" fill="#f0a32c"/>
<circle cx="640.26" cy="558.87" r="1.2" fill="#f0a32c"/>
<circle cx="642.87" cy="558.90" r="1.2" fill="#f0a32c"/>
<circle cx="645.20" cy="558.92" r="1.2" fill="#f0a32c"/>
<circle cx="660.55" cy="560.26" r="1.2" fill="#f0a32c"/>
<polyline points="543.20,625.32 558.55,625.08 567.53,624.94 573.91,624.84 578.85,624.76 582.89,624.70 586.30,624.64 589.26,624.60 591.87,624.56 594.20,624.52 609.55,623.94 618.53,623.60 624.91,623.37 629.85,623.18 633.89,622.97 637.30,622.79 640.26,622.64 642.87,622.50 645.20,622.38 660.55,620.50" fill="none" stroke="#f0a32c" stroke-width="1.5" stroke-linejoin="round" />
<circle cx="543.20" cy="625.32" r="1.2" fill="#f0a32c"/>
<circle cx="558.55" cy="625.08" r="1.2" fill="#f0a32c"/>
<circle cx="567.53" cy="624.94" r="1.2" fill="#f0a32c"/>
<circle cx="573.91" cy="624.84" r="1.2" fill="#f0a32c"/>
<circle cx="578.85" cy="624.76" r="1.2" fill="#f0a32c"/>
<circle cx="582.89" cy="624.70" r="1.2" fill="#f0a32c"/>
<circle cx="586.30" cy="624.64" r="1.2" fill="#f0a32c"/>
<circle cx="589.26" cy="624.60" r="1.2" fill="#f0a32c"/>
<circle cx="591.87" cy="624.56" r="1.2" fill="#f0a32c"/>
<circle cx="594.20" cy="624.52" r="1.2" fill="#f0a32c"/>
<circle cx="609.55" cy="623.94" r="1.2" fill="#f0a32c"/>
<circle cx="618.53" cy="623.60" r="1.2" fill="#f0a32c"/>
<circle cx="624.91" cy="623.37" r="1.2" fill="#f0a32c"/>
<circle cx="629.85" cy="623.18" r="1.2" fill="#f0a32c"/>
<circle cx="633.89" cy="622.97" r="1.2" fill="#f0a32c"/>
<circle cx="637.30" cy="622.79" r="1.2" fill="#f0a32c"/>
<circle cx="640.26" cy="622.64" r="1.2" fill="#f0a32c"/>
<circle cx="642.87" cy="622.50" r="1.2" fill="#f0a32c"/>
<circle cx="645.20" cy="622.38" r="1.2" fill="#f0a32c"/>
<circle cx="660.55" cy="620.50" r="1.2" fill="#f0a32c"/>
<polyline points="543.20,554.90 558.55,557.72 567.53,559.37 573.91,560.55 578.85,561.45 582.89,562.20 586.30,562.82 589.26,563.37 591.87,563.85 594.20,564.27 609.55,566.29 618.53,567.47 624.91,568.31 629.85,568.95 633.89,569.48 637.30,569.93 640.26,570.32 642.87,570.66 645.20,570.97 660.55,574.99" fill="none" stroke="#9b2a4c" stroke-width="1.5" stroke-linejoin="round" />
<circle cx="543.20" cy="554.90" r="1.2" fill="#9b2a4c"/>
<circle cx="558.55" cy="557.72" r="1.2" fill="#9b2a4c"/>
<circle cx="567.53" cy="559.37" r="1.2" fill="#9b2a4c"/>
<circle cx="573.91" cy="560.55" r="1.2" fill="#9b2a4c"/>
<circle cx="578.85" cy="561.45" r="1.2" fill="#9b2a4c"/>
<circle cx="582.89" cy="562.20" r="1.2" fill="#9b2a4c"/>
<circle cx="586.30" cy="562.82" r="1.2" fill="#9b2a4c"/>
<circle cx="589.26" cy="563.37" r="1.2" fill="#9b2a4c"/>
<circle cx="591.87" cy="563.85" r="1.2" fill="#9b2a4c"/>
<circle cx="594.20" cy="564.27" r="1.2" fill="#9b2a4c"/>
<circle cx="609.55" cy="566.29" r="1.2" fill="#9b2a4c"/>
<circle cx="618.53" cy="567.47" r="1.2" fill="#9b2a4c"/>
<circle cx="624.91" cy="568.31" r="1.2" fill="#9b2a4c"/>
<circle cx="629.85" cy="568.95" r="1.2" fill="#9b2a4c"/>
<circle cx="633.89" cy="569.48" r="1.2" fill="#9b2a4c"/>
<circle cx="637.30" cy="569.93" r="1.2" fill="#9b2a4c"/>
<circle cx="640.26" cy="570.32" r="1.2" fill="#9b2a4c"/>
<circle cx="642.87" cy="570.66" r="1.2" fill="#9b2a4c"/>
<circle cx="645.20" cy="570.97" r="1.2" fill="#9b2a4c"/>
<circle cx="660.55" cy="574.99" r="1.2" fill="#9b2a4c"/>
<polyline points="543.20,631.21 558.55,628.39 567.53,626.74 573.91,625.57 578.85,624.66 582.89,623.92 586.30,623.29 589.26,622.75 591.87,622.27 594.20,621.84 609.55,620.11 618.53,619.10 624.91,618.38 629.85,617.83 633.89,617.47 637.30,617.18 640.26,616.92 642.87,616.69 645.20,616.49 660.55,613.81" fill="none" stroke="#2b3795" stroke-width="1.5" stroke-linejoin="round" />
<circle cx="543.20" cy="631.21" r="1.2" fill="#2b3795"/>
<circle cx="558.55" cy="628.39" r="1.2" fill="#2b3795"/>
<circle cx="567.53" cy="626.74" r="1.2" fill="#2b3795"/>
<circle cx="573.91" cy="625.57" r="1.2" fill="#2b3795"/>
<circle cx="578.85" cy="624.66" r="1.2" fill="#2b3795"/>
<circle cx="582.89" cy="623.92" r="1.2" fill="#2b3795"/>
<circle cx="586.30" cy="623.29" r="1.2" fill="#2b3795"/>
<circle cx="589.26" cy="622.75" r="1.2" fill="#2b3795"/>
<circle cx="591.87" cy="622.27" r="1.2" fill="#2b3795"/>
<circle cx="594.20" cy="621.84" r="1.2" fill="#2b3795"/>
<circle cx="609.55" cy="620.11" r="1.2" fill="#2b3795"/>
<circle cx="618.53" cy="619.10" r="1.2" fill="#2b3795"/>
<circle cx="624.91" cy="618.38" r="1.2" fill="#2b3795"/>
<circle cx="629.85" cy="617.83" r="1.2" fill="#2b3795"/>
<circle cx="633.89" cy="617.47" r="1.2" fill="#2b3795"/>
<circle cx="637.30" cy="617.18" r="1.2" fill="#2b3795"/>
<circle cx="640.26" cy="616.92" r="1.2" fill="#2b3795"/>
<circle cx="642.87" cy="616.69" r="1.2" fill="#2b3795"/>
<circle cx="645.20" cy="616.49" r="1.2" fill="#2b3795"/>
<circle cx="660.55" cy="613.81" r="1.2" fill="#2b3795"/>
<rect x="538.2" y="537.5" width="131.3" height="107.10000000000002" fill="none" stroke="#2a2a2a" stroke-width="1.4" />
<line x1="536.4000000000001" y1="644.6" x2="538.2" y2="644.6" stroke="#222" stroke-width="1.2" />
<text x="535.4000000000001" y="648.8000000000001" font-family='"Liberation Sans", sans-serif' font-size="12" fill="#111" stroke="#111" stroke-width="0.25" text-anchor="end" font-weight="normal" >0.3</text>
<line x1="536.4000000000001" y1="617.825" x2="538.2" y2="617.825" stroke="#222" stroke-width="1.2" />
<text x="535.4000000000001" y="622.0250000000001" font-family='"Liberation Sans", sans-serif' font-size="12" fill="#111" stroke="#111" stroke-width="0.25" text-anchor="end" font-weight="normal" >0.4</text>
<line x1="536.4000000000001" y1="591.05" x2="538.2" y2="591.05" stroke="#222" stroke-width="1.2" />
<text x="535.4000000000001" y="595.25" font-family='"Liberation Sans", sans-serif' font-size="12" fill="#111" stroke="#111" stroke-width="0.25" text-anchor="end" font-weight="normal" >0.5</text>
<line x1="536.4000000000001" y1="564.275" x2="538.2" y2="564.275" stroke="#222" stroke-width="1.2" />
<text x="535.4000000000001" y="568.475" font-family='"Liberation Sans", sans-serif' font-size="12" fill="#111" stroke="#111" stroke-width="0.25" text-anchor="end" font-weight="normal" >0.6</text>
<line x1="536.4000000000001" y1="537.5" x2="538.2" y2="537.5" stroke="#222" stroke-width="1.2" />
<text x="535.4000000000001" y="541.7" font-family='"Liberation Sans", sans-serif' font-size="12" fill="#111" stroke="#111" stroke-width="0.25" text-anchor="end" font-weight="normal" >0.7</text>
<line x1="543.2" y1="644.6" x2="543.2" y2="646.4" stroke="#222" stroke-width="1.2" />
<text x="543.2" y="655.3" font-family='"Liberation Sans", sans-serif' font-size="12.2" fill="#111" stroke="#111" stroke-width="0.25" text-anchor="middle" font-weight="normal" >1</text>
<line x1="594.2" y1="644.6" x2="594.2" y2="646.4" stroke="#222" stroke-width="1.2" />
<text x="594.2" y="655.3" font-family='"Liberation Sans", sans-serif' font-size="12.2" fill="#111" stroke="#111" stroke-width="0.25" text-anchor="middle" font-weight="normal" >10</text>
<line x1="645.2" y1="644.6" x2="645.2" y2="646.4" stroke="#222" stroke-width="1.2" />
<text x="645.2" y="655.3" font-family='"Liberation Sans", sans-serif' font-size="12.2" fill="#111" stroke="#111" stroke-width="0.25" text-anchor="middle" font-weight="normal" >100</text>
<text x="604.85" y="662.8" font-family='"Liberation Sans", sans-serif' font-size="11" fill="#111" stroke="#111" stroke-width="0.25" text-anchor="middle" font-weight="normal" ><tspan font-family='"Liberation Serif", serif' font-style="italic">τ</tspan>, ms</text>
<text x="664.5" y="553.4" font-family='"Liberation Sans", sans-serif' font-size="15" fill="#111" stroke="#111" stroke-width="0.25" text-anchor="end" font-weight="normal" >ADN</text>
<text x="0" y="0" transform="translate(29.5,592) rotate(-90)" font-family='"Liberation Sans", sans-serif' font-size="11.5" fill="#111" text-anchor="middle">Fraction in HF</text></svg></body></html>
